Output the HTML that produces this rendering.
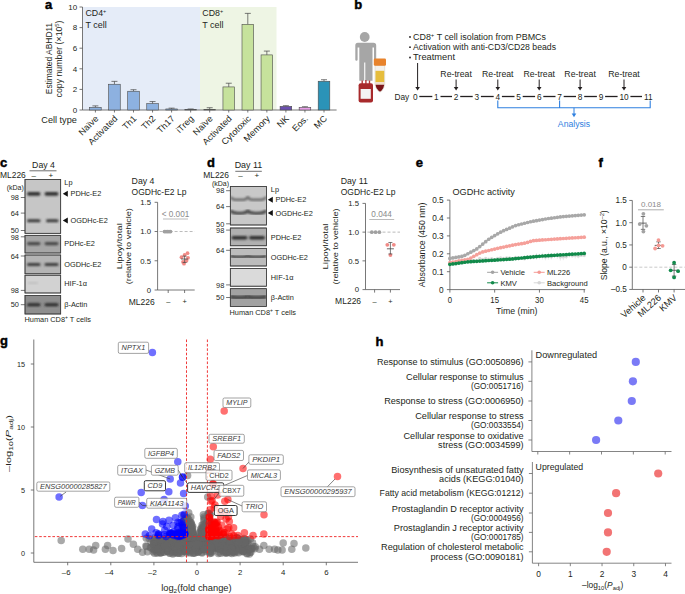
<!DOCTYPE html>
<html><head><meta charset="utf-8"><style>
html,body{margin:0;padding:0;background:#fff;width:685px;height:594px;overflow:hidden}
svg{display:block}
text{font-family:"Liberation Sans", sans-serif}
</style></head><body>
<svg width="685" height="594" viewBox="0 0 685 594">
<rect width="685" height="594" fill="#fff"/>
<text x="45.00" y="9.40" font-size="13" text-anchor="start" fill="#000" font-weight="bold" font-style="normal" stroke="#000" stroke-width="0.45">a</text>
<rect x="82.50" y="7.00" width="117.50" height="103.00" fill="#e5ecf8" stroke="none" stroke-width="0.8" />
<rect x="200.00" y="7.00" width="76.50" height="103.00" fill="#eef5e4" stroke="none" stroke-width="0.8" />
<line x1="82.50" y1="7.00" x2="82.50" y2="110.00" stroke="#555" stroke-width="0.8" />
<line x1="79.50" y1="110.00" x2="82.50" y2="110.00" stroke="#555" stroke-width="0.8" />
<text x="77.20" y="112.80" font-size="8.0" text-anchor="end" fill="#231f20" font-weight="normal" font-style="normal" >0</text>
<line x1="79.50" y1="89.40" x2="82.50" y2="89.40" stroke="#555" stroke-width="0.8" />
<text x="77.20" y="92.20" font-size="8.0" text-anchor="end" fill="#231f20" font-weight="normal" font-style="normal" >2</text>
<line x1="79.50" y1="68.80" x2="82.50" y2="68.80" stroke="#555" stroke-width="0.8" />
<text x="77.20" y="71.60" font-size="8.0" text-anchor="end" fill="#231f20" font-weight="normal" font-style="normal" >4</text>
<line x1="79.50" y1="48.20" x2="82.50" y2="48.20" stroke="#555" stroke-width="0.8" />
<text x="77.20" y="51.00" font-size="8.0" text-anchor="end" fill="#231f20" font-weight="normal" font-style="normal" >6</text>
<line x1="79.50" y1="27.60" x2="82.50" y2="27.60" stroke="#555" stroke-width="0.8" />
<text x="77.20" y="30.40" font-size="8.0" text-anchor="end" fill="#231f20" font-weight="normal" font-style="normal" >8</text>
<line x1="79.50" y1="7.00" x2="82.50" y2="7.00" stroke="#555" stroke-width="0.8" />
<text x="77.20" y="9.80" font-size="8.0" text-anchor="end" fill="#231f20" font-weight="normal" font-style="normal" >10</text>
<line x1="82.50" y1="110.00" x2="336.60" y2="110.00" stroke="#555" stroke-width="0.8" />
<text x="85.50" y="16.20" font-size="8.8" text-anchor="start" fill="#231f20" font-weight="normal" font-style="normal" >CD4<tspan font-size="5.5" dy="-3.2">+</tspan></text>
<text x="85.50" y="27.60" font-size="8.8" text-anchor="start" fill="#231f20" font-weight="normal" font-style="normal" textLength="21.28" lengthAdjust="spacingAndGlyphs" >T cell</text>
<text x="202.30" y="16.20" font-size="8.8" text-anchor="start" fill="#231f20" font-weight="normal" font-style="normal" >CD8<tspan font-size="5.5" dy="-3.2">+</tspan></text>
<text x="202.30" y="27.60" font-size="8.8" text-anchor="start" fill="#231f20" font-weight="normal" font-style="normal" textLength="21.28" lengthAdjust="spacingAndGlyphs" >T cell</text>
<g transform="translate(51.5,58.5) rotate(-90)"><text x="0.00" y="0.00" font-size="8.4" text-anchor="middle" fill="#231f20" font-weight="normal" font-style="normal" textLength="71.50" lengthAdjust="spacingAndGlyphs" >Estimated ABHD11</text></g>
<g transform="translate(62.0,59.0) rotate(-90)"><text x="0.00" y="0.00" font-size="8.4" text-anchor="middle" fill="#231f20" font-weight="normal" font-style="normal" textLength="77.00" lengthAdjust="spacingAndGlyphs" >copy number (×10<tspan font-size="5.5" dy="-3">5</tspan><tspan dy="3">)</tspan></text></g>
<line x1="95.40" y1="105.88" x2="95.40" y2="107.42" stroke="#444" stroke-width="0.7" />
<line x1="92.40" y1="105.88" x2="98.40" y2="105.88" stroke="#444" stroke-width="0.7" />
<rect x="89.60" y="107.42" width="11.60" height="2.58" fill="#8db1e0" stroke="#4a4a4a" stroke-width="0.6" />
<line x1="95.40" y1="110.00" x2="95.40" y2="112.50" stroke="#555" stroke-width="0.8" />
<g transform="translate(99.00,119.20) rotate(-45)"><text x="0.00" y="0.00" font-size="8.9" text-anchor="end" fill="#231f20" font-weight="normal" font-style="normal" textLength="23.71" lengthAdjust="spacingAndGlyphs" >Naïve</text></g>
<line x1="114.45" y1="81.37" x2="114.45" y2="84.25" stroke="#444" stroke-width="0.7" />
<line x1="111.45" y1="81.37" x2="117.45" y2="81.37" stroke="#444" stroke-width="0.7" />
<rect x="108.65" y="84.25" width="11.60" height="25.75" fill="#8db1e0" stroke="#4a4a4a" stroke-width="0.6" />
<line x1="114.45" y1="110.00" x2="114.45" y2="112.50" stroke="#555" stroke-width="0.8" />
<g transform="translate(118.05,119.20) rotate(-45)"><text x="0.00" y="0.00" font-size="8.9" text-anchor="end" fill="#231f20" font-weight="normal" font-style="normal" textLength="37.34" lengthAdjust="spacingAndGlyphs" >Activated</text></g>
<line x1="133.50" y1="89.71" x2="133.50" y2="91.25" stroke="#444" stroke-width="0.7" />
<line x1="130.50" y1="89.71" x2="136.50" y2="89.71" stroke="#444" stroke-width="0.7" />
<rect x="127.70" y="91.25" width="11.60" height="18.75" fill="#8db1e0" stroke="#4a4a4a" stroke-width="0.6" />
<line x1="133.50" y1="110.00" x2="133.50" y2="112.50" stroke="#555" stroke-width="0.8" />
<g transform="translate(137.10,119.20) rotate(-45)"><text x="0.00" y="0.00" font-size="8.9" text-anchor="end" fill="#231f20" font-weight="normal" font-style="normal" textLength="15.64" lengthAdjust="spacingAndGlyphs" >Th1</text></g>
<line x1="152.55" y1="101.55" x2="152.55" y2="103.61" stroke="#444" stroke-width="0.7" />
<line x1="149.55" y1="101.55" x2="155.55" y2="101.55" stroke="#444" stroke-width="0.7" />
<rect x="146.75" y="103.61" width="11.60" height="6.39" fill="#8db1e0" stroke="#4a4a4a" stroke-width="0.6" />
<line x1="152.55" y1="110.00" x2="152.55" y2="112.50" stroke="#555" stroke-width="0.8" />
<g transform="translate(156.15,119.20) rotate(-45)"><text x="0.00" y="0.00" font-size="8.9" text-anchor="end" fill="#231f20" font-weight="normal" font-style="normal" textLength="15.64" lengthAdjust="spacingAndGlyphs" >Th2</text></g>
<line x1="171.60" y1="108.15" x2="171.60" y2="108.97" stroke="#444" stroke-width="0.7" />
<line x1="168.60" y1="108.15" x2="174.60" y2="108.15" stroke="#444" stroke-width="0.7" />
<rect x="165.80" y="108.97" width="11.60" height="1.03" fill="#8db1e0" stroke="#4a4a4a" stroke-width="0.6" />
<line x1="171.60" y1="110.00" x2="171.60" y2="112.50" stroke="#555" stroke-width="0.8" />
<g transform="translate(175.20,119.20) rotate(-45)"><text x="0.00" y="0.00" font-size="8.9" text-anchor="end" fill="#231f20" font-weight="normal" font-style="normal" textLength="20.69" lengthAdjust="spacingAndGlyphs" >Th17</text></g>
<line x1="190.65" y1="108.97" x2="190.65" y2="109.48" stroke="#444" stroke-width="0.7" />
<line x1="187.65" y1="108.97" x2="193.65" y2="108.97" stroke="#444" stroke-width="0.7" />
<rect x="184.85" y="109.48" width="11.60" height="0.52" fill="#8db1e0" stroke="#4a4a4a" stroke-width="0.6" />
<line x1="190.65" y1="110.00" x2="190.65" y2="112.50" stroke="#555" stroke-width="0.8" />
<g transform="translate(194.25,119.20) rotate(-45)"><text x="0.00" y="0.00" font-size="8.9" text-anchor="end" fill="#231f20" font-weight="normal" font-style="normal" textLength="20.35" lengthAdjust="spacingAndGlyphs" >iTreg</text></g>
<line x1="209.70" y1="107.73" x2="209.70" y2="109.48" stroke="#444" stroke-width="0.7" />
<line x1="206.70" y1="107.73" x2="212.70" y2="107.73" stroke="#444" stroke-width="0.7" />
<rect x="203.90" y="109.48" width="11.60" height="0.52" fill="#c6e29c" stroke="#4a4a4a" stroke-width="0.6" />
<line x1="209.70" y1="110.00" x2="209.70" y2="112.50" stroke="#555" stroke-width="0.8" />
<g transform="translate(213.30,119.20) rotate(-45)"><text x="0.00" y="0.00" font-size="8.9" text-anchor="end" fill="#231f20" font-weight="normal" font-style="normal" textLength="23.71" lengthAdjust="spacingAndGlyphs" >Naïve</text></g>
<line x1="228.75" y1="83.22" x2="228.75" y2="86.93" stroke="#444" stroke-width="0.7" />
<line x1="225.75" y1="83.22" x2="231.75" y2="83.22" stroke="#444" stroke-width="0.7" />
<rect x="222.95" y="86.93" width="11.60" height="23.07" fill="#c6e29c" stroke="#4a4a4a" stroke-width="0.6" />
<line x1="228.75" y1="110.00" x2="228.75" y2="112.50" stroke="#555" stroke-width="0.8" />
<g transform="translate(232.35,119.20) rotate(-45)"><text x="0.00" y="0.00" font-size="8.9" text-anchor="end" fill="#231f20" font-weight="normal" font-style="normal" textLength="37.34" lengthAdjust="spacingAndGlyphs" >Activated</text></g>
<line x1="247.80" y1="13.39" x2="247.80" y2="24.30" stroke="#444" stroke-width="0.7" />
<line x1="244.80" y1="13.39" x2="250.80" y2="13.39" stroke="#444" stroke-width="0.7" />
<rect x="242.00" y="24.30" width="11.60" height="85.70" fill="#c6e29c" stroke="#4a4a4a" stroke-width="0.6" />
<line x1="247.80" y1="110.00" x2="247.80" y2="112.50" stroke="#555" stroke-width="0.8" />
<g transform="translate(251.40,119.20) rotate(-45)"><text x="0.00" y="0.00" font-size="8.9" text-anchor="end" fill="#231f20" font-weight="normal" font-style="normal" textLength="37.33" lengthAdjust="spacingAndGlyphs" >Cytotoxic</text></g>
<line x1="266.85" y1="51.08" x2="266.85" y2="54.90" stroke="#444" stroke-width="0.7" />
<line x1="263.85" y1="51.08" x2="269.85" y2="51.08" stroke="#444" stroke-width="0.7" />
<rect x="261.05" y="54.90" width="11.60" height="55.10" fill="#c6e29c" stroke="#4a4a4a" stroke-width="0.6" />
<line x1="266.85" y1="110.00" x2="266.85" y2="112.50" stroke="#555" stroke-width="0.8" />
<g transform="translate(270.45,119.20) rotate(-45)"><text x="0.00" y="0.00" font-size="8.9" text-anchor="end" fill="#231f20" font-weight="normal" font-style="normal" textLength="32.79" lengthAdjust="spacingAndGlyphs" >Memory</text></g>
<line x1="285.90" y1="105.67" x2="285.90" y2="106.39" stroke="#444" stroke-width="0.7" />
<line x1="282.90" y1="105.67" x2="288.90" y2="105.67" stroke="#444" stroke-width="0.7" />
<rect x="280.10" y="106.39" width="11.60" height="3.60" fill="#6b4fb0" stroke="#4a4a4a" stroke-width="0.6" />
<line x1="285.90" y1="110.00" x2="285.90" y2="112.50" stroke="#555" stroke-width="0.8" />
<g transform="translate(289.50,119.20) rotate(-45)"><text x="0.00" y="0.00" font-size="8.9" text-anchor="end" fill="#231f20" font-weight="normal" font-style="normal" textLength="12.61" lengthAdjust="spacingAndGlyphs" >NK</text></g>
<line x1="304.95" y1="106.70" x2="304.95" y2="107.42" stroke="#444" stroke-width="0.7" />
<line x1="301.95" y1="106.70" x2="307.95" y2="106.70" stroke="#444" stroke-width="0.7" />
<rect x="299.15" y="107.42" width="11.60" height="2.58" fill="#e8a0e8" stroke="#4a4a4a" stroke-width="0.6" />
<line x1="304.95" y1="110.00" x2="304.95" y2="112.50" stroke="#555" stroke-width="0.8" />
<g transform="translate(308.55,119.20) rotate(-45)"><text x="0.00" y="0.00" font-size="8.9" text-anchor="end" fill="#231f20" font-weight="normal" font-style="normal" textLength="18.17" lengthAdjust="spacingAndGlyphs" >Eos.</text></g>
<line x1="324.00" y1="79.72" x2="324.00" y2="81.26" stroke="#444" stroke-width="0.7" />
<line x1="321.00" y1="79.72" x2="327.00" y2="79.72" stroke="#444" stroke-width="0.7" />
<rect x="318.20" y="81.26" width="11.60" height="28.74" fill="#2b93b8" stroke="#4a4a4a" stroke-width="0.6" />
<line x1="324.00" y1="110.00" x2="324.00" y2="112.50" stroke="#555" stroke-width="0.8" />
<g transform="translate(327.60,119.20) rotate(-45)"><text x="0.00" y="0.00" font-size="8.9" text-anchor="end" fill="#231f20" font-weight="normal" font-style="normal" textLength="14.12" lengthAdjust="spacingAndGlyphs" >MC</text></g>
<text x="76.80" y="123.20" font-size="8.6" text-anchor="end" fill="#231f20" font-weight="normal" font-style="normal" textLength="35.50" lengthAdjust="spacingAndGlyphs" >Cell type</text>
<text x="354.30" y="8.80" font-size="13" text-anchor="start" fill="#000" font-weight="bold" font-style="normal" stroke="#000" stroke-width="0.45">b</text>
<circle cx="364.70" cy="37.00" r="4.90" fill="#a6a6a6" />
<path d="M357.8,42.8 H373.5 Q376.2,42.8 376.2,45.5 V59.8 Q376.2,60.8 375.1,60.8 Q374.0,60.8 374.0,59.8 V47.5 H372.5 V80.8 H365.3 V62.5 H364.2 V80.8 H359.3 V47.5 H357.6 V59.8 Q357.6,60.8 356.5,60.8 Q355.3,60.8 355.3,59.8 V45.5 Q355.3,42.8 357.8,42.8 Z" fill="#a6a6a6"/>
<rect x="361.50" y="80.50" width="1.40" height="3.50" fill="#b5383a" stroke="none" stroke-width="0.8" />
<rect x="365.20" y="80.00" width="1.40" height="4.00" fill="#b5383a" stroke="none" stroke-width="0.8" />
<rect x="368.80" y="80.50" width="1.40" height="3.50" fill="#b5383a" stroke="none" stroke-width="0.8" />
<rect x="358.6" y="83.3" width="14.4" height="19.3" rx="2" fill="#a82a2c"/>
<rect x="360.60" y="89.00" width="10.20" height="9.80" fill="#f4f4f4" stroke="none" stroke-width="0.8" />
<path d="M375.0,65.5 H384.7 V84.5 Q384.5,87.5 381.8,91.0 Q380.0,93.2 378.2,91.0 Q375.2,87.5 375.0,84.5 Z" fill="#f4f1ec" stroke="#cfc8bc" stroke-width="0.5"/>
<rect x="375.50" y="70.80" width="8.70" height="11.40" fill="#e6bd3c" stroke="none" stroke-width="0.8" />
<rect x="375.50" y="82.20" width="8.70" height="2.60" fill="#efdccb" stroke="none" stroke-width="0.8" />
<path d="M375.5,84.8 H384.2 Q384.0,87.5 381.6,90.6 Q380.0,92.6 378.4,90.6 Q375.7,87.5 375.5,84.8 Z" fill="#7a1418"/>
<rect x="373.8" y="58.6" width="12.2" height="7.2" rx="1.2" fill="#e8832c"/>
<circle cx="410.00" cy="37.00" r="0.90" fill="#231f20" />
<text x="413.00" y="39.50" font-size="8.3" text-anchor="start" fill="#231f20" font-weight="normal" font-style="normal" textLength="133.00" lengthAdjust="spacingAndGlyphs" >CD8<tspan font-size="5.5" dy="-3">+</tspan><tspan dy="3"> T cell isolation from PBMCs</tspan></text>
<circle cx="410.00" cy="47.20" r="0.90" fill="#231f20" />
<text x="413.00" y="49.70" font-size="8.3" text-anchor="start" fill="#231f20" font-weight="normal" font-style="normal" textLength="143.00" lengthAdjust="spacingAndGlyphs" >Activation with anti-CD3/CD28 beads</text>
<circle cx="410.00" cy="57.50" r="0.90" fill="#231f20" />
<text x="413.00" y="60.00" font-size="8.3" text-anchor="start" fill="#231f20" font-weight="normal" font-style="normal" textLength="42.00" lengthAdjust="spacingAndGlyphs" >Treatment</text>
<text x="394.50" y="99.50" font-size="8.3" text-anchor="start" fill="#231f20" font-weight="normal" font-style="normal" >Day</text>
<text x="415.20" y="99.50" font-size="8.3" text-anchor="middle" fill="#231f20" font-weight="normal" font-style="normal" >0</text>
<text x="436.40" y="99.50" font-size="8.3" text-anchor="middle" fill="#231f20" font-weight="normal" font-style="normal" >1</text>
<text x="456.10" y="99.50" font-size="8.3" text-anchor="middle" fill="#231f20" font-weight="normal" font-style="normal" >2</text>
<text x="476.80" y="99.50" font-size="8.3" text-anchor="middle" fill="#231f20" font-weight="normal" font-style="normal" >3</text>
<text x="497.80" y="99.50" font-size="8.3" text-anchor="middle" fill="#231f20" font-weight="normal" font-style="normal" >4</text>
<text x="518.60" y="99.50" font-size="8.3" text-anchor="middle" fill="#231f20" font-weight="normal" font-style="normal" >5</text>
<text x="539.20" y="99.50" font-size="8.3" text-anchor="middle" fill="#231f20" font-weight="normal" font-style="normal" >6</text>
<text x="559.60" y="99.50" font-size="8.3" text-anchor="middle" fill="#231f20" font-weight="normal" font-style="normal" >7</text>
<text x="580.10" y="99.50" font-size="8.3" text-anchor="middle" fill="#231f20" font-weight="normal" font-style="normal" >8</text>
<text x="601.00" y="99.50" font-size="8.3" text-anchor="middle" fill="#231f20" font-weight="normal" font-style="normal" >9</text>
<text x="624.00" y="99.50" font-size="8.3" text-anchor="middle" fill="#231f20" font-weight="normal" font-style="normal" >10</text>
<text x="648.40" y="99.50" font-size="8.3" text-anchor="middle" fill="#231f20" font-weight="normal" font-style="normal" >11</text>
<line x1="419.30" y1="96.50" x2="432.30" y2="96.50" stroke="#231f20" stroke-width="1.3" />
<line x1="440.50" y1="96.50" x2="452.00" y2="96.50" stroke="#231f20" stroke-width="1.3" />
<line x1="460.20" y1="96.50" x2="472.70" y2="96.50" stroke="#231f20" stroke-width="1.3" />
<line x1="480.90" y1="96.50" x2="493.70" y2="96.50" stroke="#231f20" stroke-width="1.3" />
<line x1="501.90" y1="96.50" x2="514.50" y2="96.50" stroke="#231f20" stroke-width="1.3" />
<line x1="522.70" y1="96.50" x2="535.10" y2="96.50" stroke="#231f20" stroke-width="1.3" />
<line x1="543.30" y1="96.50" x2="555.50" y2="96.50" stroke="#231f20" stroke-width="1.3" />
<line x1="563.70" y1="96.50" x2="576.00" y2="96.50" stroke="#231f20" stroke-width="1.3" />
<line x1="584.20" y1="96.50" x2="596.90" y2="96.50" stroke="#231f20" stroke-width="1.3" />
<line x1="605.10" y1="96.50" x2="617.60" y2="96.50" stroke="#231f20" stroke-width="1.3" />
<line x1="630.40" y1="96.50" x2="642.00" y2="96.50" stroke="#231f20" stroke-width="1.3" />
<line x1="417.60" y1="63.00" x2="417.60" y2="87.50" stroke="#231f20" stroke-width="1.0" /><path d="M415.30,86.90 L419.90,86.90 L417.60,90.50 Z" fill="#231f20"/>
<text x="456.10" y="76.50" font-size="8.3" text-anchor="middle" fill="#231f20" font-weight="normal" font-style="normal" textLength="31.50" lengthAdjust="spacingAndGlyphs" >Re-treat</text>
<line x1="456.10" y1="79.50" x2="456.10" y2="87.50" stroke="#231f20" stroke-width="1.0" /><path d="M453.80,86.90 L458.40,86.90 L456.10,90.50 Z" fill="#231f20"/>
<text x="497.80" y="76.50" font-size="8.3" text-anchor="middle" fill="#231f20" font-weight="normal" font-style="normal" textLength="31.50" lengthAdjust="spacingAndGlyphs" >Re-treat</text>
<line x1="497.80" y1="79.50" x2="497.80" y2="87.50" stroke="#231f20" stroke-width="1.0" /><path d="M495.50,86.90 L500.10,86.90 L497.80,90.50 Z" fill="#231f20"/>
<text x="539.20" y="76.50" font-size="8.3" text-anchor="middle" fill="#231f20" font-weight="normal" font-style="normal" textLength="31.50" lengthAdjust="spacingAndGlyphs" >Re-treat</text>
<line x1="539.20" y1="79.50" x2="539.20" y2="87.50" stroke="#231f20" stroke-width="1.0" /><path d="M536.90,86.90 L541.50,86.90 L539.20,90.50 Z" fill="#231f20"/>
<text x="580.10" y="76.50" font-size="8.3" text-anchor="middle" fill="#231f20" font-weight="normal" font-style="normal" textLength="31.50" lengthAdjust="spacingAndGlyphs" >Re-treat</text>
<line x1="580.10" y1="79.50" x2="580.10" y2="87.50" stroke="#231f20" stroke-width="1.0" /><path d="M577.80,86.90 L582.40,86.90 L580.10,90.50 Z" fill="#231f20"/>
<text x="624.00" y="76.50" font-size="8.3" text-anchor="middle" fill="#231f20" font-weight="normal" font-style="normal" textLength="31.50" lengthAdjust="spacingAndGlyphs" >Re-treat</text>
<line x1="624.00" y1="79.50" x2="624.00" y2="87.50" stroke="#231f20" stroke-width="1.0" /><path d="M621.70,86.90 L626.30,86.90 L624.00,90.50 Z" fill="#231f20"/>
<path d="M497.8,100.5 V107.8 H650.2 V100.5 M559.6,107.8 V100.5" fill="none" stroke="#2f80e0" stroke-width="1.1"/>
<line x1="574.00" y1="107.80" x2="574.00" y2="114.50" stroke="#2f80e0" stroke-width="1.0" />
<path d="M571.7,113.5 L576.3,113.5 L574,117.2 Z" fill="#2f80e0"/>
<text x="574.00" y="127.40" font-size="8.3" text-anchor="middle" fill="#2f80e0" font-weight="normal" font-style="normal" textLength="32.30" lengthAdjust="spacingAndGlyphs" >Analysis</text>
<defs><filter id="blur" x="-20%" y="-50%" width="140%" height="200%"><feGaussianBlur stdDeviation="0.85"/></filter></defs>
<text x="0.00" y="166.90" font-size="13" text-anchor="start" fill="#000" font-weight="bold" font-style="normal" stroke="#000" stroke-width="0.45">c</text>
<text x="43.50" y="167.60" font-size="8.6" text-anchor="middle" fill="#231f20" font-weight="normal" font-style="normal" textLength="22.80" lengthAdjust="spacingAndGlyphs" >Day 4</text>
<line x1="29.50" y1="170.80" x2="56.50" y2="170.80" stroke="#333" stroke-width="0.7" />
<text x="0.00" y="177.70" font-size="9.0" text-anchor="start" fill="#231f20" font-weight="normal" font-style="normal" textLength="25.80" lengthAdjust="spacingAndGlyphs" >ML226</text>
<text x="33.80" y="178.20" font-size="8.0" text-anchor="middle" fill="#231f20" font-weight="normal" font-style="normal" >–</text>
<text x="50.80" y="178.20" font-size="8.0" text-anchor="middle" fill="#231f20" font-weight="normal" font-style="normal" >+</text>
<text x="23.80" y="189.60" font-size="7.0" text-anchor="end" fill="#231f20" font-weight="normal" font-style="normal" >(kDa)</text>
<clipPath id="clip25_0"><rect x="25.00" y="179.40" width="35.70" height="53.90"/></clipPath>
<rect x="25.00" y="179.40" width="35.70" height="53.90" fill="#c6c6c6" stroke="#3c3c3c" stroke-width="0.7" />
<g clip-path="url(#clip25_0)">
<rect x="27.00" y="192.10" width="13.50" height="3.60" rx="1.80" fill="#333" filter="url(#blur)"/>
<rect x="44.50" y="192.10" width="14.00" height="3.60" rx="1.80" fill="#333" filter="url(#blur)"/>
<rect x="27.00" y="219.20" width="13.50" height="3.00" rx="1.50" fill="#3a3a3a" filter="url(#blur)"/>
<rect x="46.00" y="219.20" width="12.50" height="3.00" rx="1.50" fill="#3a3a3a" filter="url(#blur)"/>
</g>
<rect x="25.00" y="179.40" width="35.70" height="53.90" fill="none" stroke="#3c3c3c" stroke-width="0.7" />
<clipPath id="clip25_1"><rect x="25.00" y="235.30" width="35.70" height="17.70"/></clipPath>
<rect x="25.00" y="235.30" width="35.70" height="17.70" fill="#a6a6a6" stroke="#3c3c3c" stroke-width="0.7" />
<g clip-path="url(#clip25_1)">
<rect x="27.00" y="242.00" width="13.50" height="3.20" rx="1.60" fill="#4a4a4a" filter="url(#blur)"/>
<rect x="44.50" y="242.00" width="14.00" height="3.20" rx="1.60" fill="#4a4a4a" filter="url(#blur)"/>
</g>
<rect x="25.00" y="235.30" width="35.70" height="17.70" fill="none" stroke="#3c3c3c" stroke-width="0.7" />
<clipPath id="clip25_2"><rect x="25.00" y="255.00" width="35.70" height="18.80"/></clipPath>
<rect x="25.00" y="255.00" width="35.70" height="18.80" fill="#b4b4b4" stroke="#3c3c3c" stroke-width="0.7" />
<g clip-path="url(#clip25_2)">
<rect x="27.00" y="263.10" width="13.50" height="3.00" rx="1.50" fill="#3c3c3c" filter="url(#blur)"/>
<rect x="44.50" y="263.10" width="14.00" height="3.00" rx="1.50" fill="#3c3c3c" filter="url(#blur)"/>
</g>
<rect x="25.00" y="255.00" width="35.70" height="18.80" fill="none" stroke="#3c3c3c" stroke-width="0.7" />
<clipPath id="clip25_3"><rect x="25.00" y="275.20" width="35.70" height="17.80"/></clipPath>
<rect x="25.00" y="275.20" width="35.70" height="17.80" fill="#d2d2d2" stroke="#3c3c3c" stroke-width="0.7" />
<g clip-path="url(#clip25_3)">
<rect x="28.00" y="282.00" width="10.00" height="2.00" rx="1.00" fill="#c0c0c0" filter="url(#blur)"/>
</g>
<rect x="25.00" y="275.20" width="35.70" height="17.80" fill="none" stroke="#3c3c3c" stroke-width="0.7" />
<clipPath id="clip25_4"><rect x="25.00" y="295.50" width="35.70" height="18.50"/></clipPath>
<rect x="25.00" y="295.50" width="35.70" height="18.50" fill="#8e8e8e" stroke="#3c3c3c" stroke-width="0.7" />
<g clip-path="url(#clip25_4)">
<rect x="27.00" y="303.30" width="13.50" height="3.00" rx="1.50" fill="#2a2a2a" filter="url(#blur)"/>
<rect x="44.50" y="303.30" width="14.00" height="3.00" rx="1.50" fill="#2a2a2a" filter="url(#blur)"/>
</g>
<rect x="25.00" y="295.50" width="35.70" height="18.50" fill="none" stroke="#3c3c3c" stroke-width="0.7" />
<line x1="20.80" y1="197.50" x2="25.00" y2="197.50" stroke="#3c3c3c" stroke-width="0.7" />
<text x="19.00" y="200.20" font-size="7.8" text-anchor="end" fill="#231f20" font-weight="normal" font-style="normal" textLength="8.24" lengthAdjust="spacingAndGlyphs" >98</text>
<line x1="20.80" y1="213.10" x2="25.00" y2="213.10" stroke="#3c3c3c" stroke-width="0.7" />
<text x="19.00" y="215.80" font-size="7.8" text-anchor="end" fill="#231f20" font-weight="normal" font-style="normal" textLength="8.24" lengthAdjust="spacingAndGlyphs" >64</text>
<line x1="20.80" y1="230.50" x2="25.00" y2="230.50" stroke="#3c3c3c" stroke-width="0.7" />
<text x="19.00" y="233.20" font-size="7.8" text-anchor="end" fill="#231f20" font-weight="normal" font-style="normal" textLength="8.24" lengthAdjust="spacingAndGlyphs" >50</text>
<line x1="20.80" y1="236.80" x2="25.00" y2="236.80" stroke="#3c3c3c" stroke-width="0.7" />
<text x="19.00" y="239.50" font-size="7.8" text-anchor="end" fill="#231f20" font-weight="normal" font-style="normal" textLength="8.24" lengthAdjust="spacingAndGlyphs" >98</text>
<line x1="20.80" y1="256.00" x2="25.00" y2="256.00" stroke="#3c3c3c" stroke-width="0.7" />
<text x="19.00" y="258.70" font-size="7.8" text-anchor="end" fill="#231f20" font-weight="normal" font-style="normal" textLength="8.24" lengthAdjust="spacingAndGlyphs" >64</text>
<line x1="20.80" y1="290.40" x2="25.00" y2="290.40" stroke="#3c3c3c" stroke-width="0.7" />
<text x="19.00" y="293.10" font-size="7.8" text-anchor="end" fill="#231f20" font-weight="normal" font-style="normal" textLength="8.24" lengthAdjust="spacingAndGlyphs" >98</text>
<line x1="20.80" y1="304.70" x2="25.00" y2="304.70" stroke="#3c3c3c" stroke-width="0.7" />
<text x="19.00" y="307.40" font-size="7.8" text-anchor="end" fill="#231f20" font-weight="normal" font-style="normal" textLength="8.24" lengthAdjust="spacingAndGlyphs" >50</text>
<text x="64.30" y="184.60" font-size="7.5" text-anchor="start" fill="#231f20" font-weight="normal" font-style="normal" textLength="8.18" lengthAdjust="spacingAndGlyphs" >Lp</text>
<path d="M62.80,193.80 L67.80,190.80 L67.80,196.80 Z" fill="#111"/>
<text x="70.60" y="196.40" font-size="7.5" text-anchor="start" fill="#231f20" font-weight="normal" font-style="normal" textLength="30.63" lengthAdjust="spacingAndGlyphs" >PDHc-E2</text>
<path d="M62.80,220.60 L67.80,217.60 L67.80,223.60 Z" fill="#111"/>
<text x="70.60" y="223.20" font-size="7.5" text-anchor="start" fill="#231f20" font-weight="normal" font-style="normal" textLength="37.16" lengthAdjust="spacingAndGlyphs" >OGDHc-E2</text>
<text x="64.30" y="246.00" font-size="7.5" text-anchor="start" fill="#231f20" font-weight="normal" font-style="normal" textLength="30.63" lengthAdjust="spacingAndGlyphs" >PDHc-E2</text>
<text x="64.30" y="267.20" font-size="7.5" text-anchor="start" fill="#231f20" font-weight="normal" font-style="normal" textLength="37.16" lengthAdjust="spacingAndGlyphs" >OGDHc-E2</text>
<text x="64.30" y="285.60" font-size="7.5" text-anchor="start" fill="#231f20" font-weight="normal" font-style="normal" textLength="22.62" lengthAdjust="spacingAndGlyphs" >HIF-1α</text>
<text x="64.30" y="307.30" font-size="7.5" text-anchor="start" fill="#231f20" font-weight="normal" font-style="normal" textLength="23.02" lengthAdjust="spacingAndGlyphs" >β-Actin</text>
<text x="24.50" y="322.00" font-size="7.4" text-anchor="start" fill="#231f20" font-weight="normal" font-style="normal" textLength="66.50" lengthAdjust="spacingAndGlyphs" >Human CD8<tspan font-size="5" dy="-3">+</tspan><tspan dy="3"> T cells</tspan></text>
<line x1="157.60" y1="202.30" x2="157.60" y2="290.00" stroke="#555" stroke-width="0.8" />
<line x1="157.60" y1="290.00" x2="194.70" y2="290.00" stroke="#555" stroke-width="0.8" />
<line x1="154.60" y1="290.00" x2="157.60" y2="290.00" stroke="#555" stroke-width="0.8" />
<text x="151.10" y="292.80" font-size="8.0" text-anchor="end" fill="#231f20" font-weight="normal" font-style="normal" textLength="4.32" lengthAdjust="spacingAndGlyphs" >0</text>
<line x1="154.60" y1="260.77" x2="157.60" y2="260.77" stroke="#555" stroke-width="0.8" />
<text x="151.10" y="263.57" font-size="8.0" text-anchor="end" fill="#231f20" font-weight="normal" font-style="normal" textLength="10.79" lengthAdjust="spacingAndGlyphs" >0.5</text>
<line x1="154.60" y1="231.53" x2="157.60" y2="231.53" stroke="#555" stroke-width="0.8" />
<text x="151.10" y="234.33" font-size="8.0" text-anchor="end" fill="#231f20" font-weight="normal" font-style="normal" textLength="10.79" lengthAdjust="spacingAndGlyphs" >1.0</text>
<line x1="154.60" y1="202.30" x2="157.60" y2="202.30" stroke="#555" stroke-width="0.8" />
<text x="151.10" y="205.10" font-size="8.0" text-anchor="end" fill="#231f20" font-weight="normal" font-style="normal" textLength="10.79" lengthAdjust="spacingAndGlyphs" >1.5</text>
<line x1="168.20" y1="290.00" x2="168.20" y2="293.00" stroke="#555" stroke-width="0.8" />
<line x1="184.60" y1="290.00" x2="184.60" y2="293.00" stroke="#555" stroke-width="0.8" />
<text x="168.20" y="304.00" font-size="7.4" text-anchor="middle" fill="#231f20" font-weight="normal" font-style="normal" >–</text>
<text x="184.60" y="304.00" font-size="7.4" text-anchor="middle" fill="#231f20" font-weight="normal" font-style="normal" >+</text>
<text x="154.70" y="304.50" font-size="8.5" text-anchor="end" fill="#231f20" font-weight="normal" font-style="normal" textLength="25.99" lengthAdjust="spacingAndGlyphs" >ML226</text>
<line x1="159.60" y1="231.53" x2="194.70" y2="231.53" stroke="#aaa" stroke-width="0.8" stroke-dasharray="3,2"/>
<text x="131.60" y="183.50" font-size="8.5" text-anchor="start" fill="#231f20" font-weight="normal" font-style="normal" textLength="22.87" lengthAdjust="spacingAndGlyphs" >Day 4</text>
<text x="131.60" y="194.50" font-size="8.5" text-anchor="start" fill="#231f20" font-weight="normal" font-style="normal" textLength="54.79" lengthAdjust="spacingAndGlyphs" >OGDHc-E2 Lp</text>
<text x="175.50" y="216.50" font-size="8.2" text-anchor="middle" fill="#8a8a8a" font-weight="normal" font-style="normal" >&lt; 0.001</text>
<line x1="163.00" y1="219.00" x2="188.00" y2="219.00" stroke="#aaa" stroke-width="0.8" />
<g transform="translate(121.50,246.15) rotate(-90)"><text x="0.00" y="0.00" font-size="7.9" text-anchor="middle" fill="#231f20" font-weight="normal" font-style="normal" textLength="46.00" lengthAdjust="spacingAndGlyphs" >Lipoyl/total</text></g>
<g transform="translate(131.00,246.15) rotate(-90)"><text x="0.00" y="0.00" font-size="7.9" text-anchor="middle" fill="#231f20" font-weight="normal" font-style="normal" textLength="76.00" lengthAdjust="spacingAndGlyphs" >(relative to vehicle)</text></g>
<circle cx="164.50" cy="231.53" r="1.90" fill="#a0a0a0" />
<circle cx="166.00" cy="231.53" r="1.90" fill="#a0a0a0" />
<circle cx="167.50" cy="231.53" r="1.90" fill="#a0a0a0" />
<circle cx="169.00" cy="231.53" r="1.90" fill="#a0a0a0" />
<circle cx="170.50" cy="231.53" r="1.90" fill="#a0a0a0" />
<circle cx="187.50" cy="253.17" r="1.90" fill="#f08a86" />
<circle cx="181.50" cy="257.26" r="1.90" fill="#f08a86" />
<circle cx="188.00" cy="257.84" r="1.90" fill="#f08a86" />
<circle cx="183.00" cy="261.94" r="1.90" fill="#f08a86" />
<circle cx="186.50" cy="260.77" r="1.90" fill="#f08a86" />
<circle cx="184.60" cy="254.92" r="1.90" fill="#f08a86" />
<circle cx="184.00" cy="263.69" r="1.90" fill="#f08a86" />
<line x1="184.60" y1="262.52" x2="184.60" y2="256.09" stroke="#444" stroke-width="0.7" />
<line x1="181.10" y1="259.01" x2="188.10" y2="259.01" stroke="#444" stroke-width="0.8" />
<line x1="182.60" y1="262.52" x2="186.60" y2="262.52" stroke="#444" stroke-width="0.7" />
<line x1="182.60" y1="256.09" x2="186.60" y2="256.09" stroke="#444" stroke-width="0.7" />
<text x="207.00" y="166.70" font-size="13" text-anchor="start" fill="#000" font-weight="bold" font-style="normal" stroke="#000" stroke-width="0.45">d</text>
<text x="248.50" y="167.60" font-size="8.6" text-anchor="middle" fill="#231f20" font-weight="normal" font-style="normal" textLength="27.68" lengthAdjust="spacingAndGlyphs" >Day 11</text>
<line x1="235.30" y1="171.30" x2="261.80" y2="171.30" stroke="#333" stroke-width="0.7" />
<text x="229.00" y="177.60" font-size="9.0" text-anchor="end" fill="#231f20" font-weight="normal" font-style="normal" textLength="25.80" lengthAdjust="spacingAndGlyphs" >ML226</text>
<text x="240.40" y="178.00" font-size="8.0" text-anchor="middle" fill="#231f20" font-weight="normal" font-style="normal" >–</text>
<text x="256.80" y="178.00" font-size="8.0" text-anchor="middle" fill="#231f20" font-weight="normal" font-style="normal" >+</text>
<text x="229.00" y="185.50" font-size="7.0" text-anchor="end" fill="#231f20" font-weight="normal" font-style="normal" >(kDa)</text>
<clipPath id="clip230_0"><rect x="230.30" y="186.40" width="36.10" height="38.60"/></clipPath>
<rect x="230.30" y="186.40" width="36.10" height="38.60" fill="#c8c8c8" stroke="#3c3c3c" stroke-width="0.7" />
<g clip-path="url(#clip230_0)">
<path d="M230.50,197.00 C233.00,200.10 235.00,199.80 239.40,199.80 C243.80,199.80 245.80,200.10 248.30,197.00" fill="none" stroke="#6a6a6a" stroke-width="2.60" filter="url(#blur)"/>
<path d="M247.30,197.00 C249.80,200.10 251.80,199.80 256.80,199.80 C261.80,199.80 263.80,200.10 266.30,197.00" fill="none" stroke="#6a6a6a" stroke-width="2.60" filter="url(#blur)"/>
<path d="M230.50,210.60 C233.00,213.50 235.00,213.20 239.40,213.20 C243.80,213.20 245.80,213.50 248.30,210.60" fill="none" stroke="#4a4a4a" stroke-width="3.00" filter="url(#blur)"/>
<path d="M247.30,210.60 C249.80,213.50 251.80,213.20 256.80,213.20 C261.80,213.20 263.80,213.50 266.30,210.60" fill="none" stroke="#4a4a4a" stroke-width="3.00" filter="url(#blur)"/>
</g>
<rect x="230.30" y="186.40" width="36.10" height="38.60" fill="none" stroke="#3c3c3c" stroke-width="0.7" />
<clipPath id="clip230_1"><rect x="230.30" y="228.00" width="36.10" height="17.80"/></clipPath>
<rect x="230.30" y="228.00" width="36.10" height="17.80" fill="#b0b0b0" stroke="#3c3c3c" stroke-width="0.7" />
<g clip-path="url(#clip230_1)">
<rect x="231.50" y="235.90" width="16.00" height="3.60" rx="1.80" fill="#2e2e2e" filter="url(#blur)"/>
<rect x="249.00" y="235.90" width="16.00" height="3.60" rx="1.80" fill="#2e2e2e" filter="url(#blur)"/>
</g>
<rect x="230.30" y="228.00" width="36.10" height="17.80" fill="none" stroke="#3c3c3c" stroke-width="0.7" />
<clipPath id="clip230_2"><rect x="230.30" y="248.30" width="36.10" height="17.70"/></clipPath>
<rect x="230.30" y="248.30" width="36.10" height="17.70" fill="#bcbcbc" stroke="#3c3c3c" stroke-width="0.7" />
<g clip-path="url(#clip230_2)">
<path d="M230.50,255.80 C233.00,257.40 235.00,257.10 239.40,257.10 C243.80,257.10 245.80,257.40 248.30,255.80" fill="none" stroke="#484848" stroke-width="3.00" filter="url(#blur)"/>
<path d="M247.30,255.80 C249.80,257.40 251.80,257.10 256.80,257.10 C261.80,257.10 263.80,257.40 266.30,255.80" fill="none" stroke="#484848" stroke-width="3.00" filter="url(#blur)"/>
</g>
<rect x="230.30" y="248.30" width="36.10" height="17.70" fill="none" stroke="#3c3c3c" stroke-width="0.7" />
<clipPath id="clip230_3"><rect x="230.30" y="268.50" width="36.10" height="17.70"/></clipPath>
<rect x="230.30" y="268.50" width="36.10" height="17.70" fill="#dadada" stroke="#3c3c3c" stroke-width="0.7" />
<g clip-path="url(#clip230_3)">
</g>
<rect x="230.30" y="268.50" width="36.10" height="17.70" fill="none" stroke="#3c3c3c" stroke-width="0.7" />
<clipPath id="clip230_4"><rect x="230.30" y="288.70" width="36.10" height="17.70"/></clipPath>
<rect x="230.30" y="288.70" width="36.10" height="17.70" fill="#a2a2a2" stroke="#3c3c3c" stroke-width="0.7" />
<g clip-path="url(#clip230_4)">
<path d="M230.50,296.30 C233.00,297.80 235.00,297.50 239.40,297.50 C243.80,297.50 245.80,297.80 248.30,296.30" fill="none" stroke="#4a4a4a" stroke-width="4.00" filter="url(#blur)"/>
<path d="M247.30,296.30 C249.80,297.80 251.80,297.50 256.80,297.50 C261.80,297.50 263.80,297.80 266.30,296.30" fill="none" stroke="#4a4a4a" stroke-width="4.00" filter="url(#blur)"/>
</g>
<rect x="230.30" y="288.70" width="36.10" height="17.70" fill="none" stroke="#3c3c3c" stroke-width="0.7" />
<line x1="226.10" y1="190.70" x2="230.30" y2="190.70" stroke="#3c3c3c" stroke-width="0.7" />
<text x="224.30" y="193.40" font-size="7.8" text-anchor="end" fill="#231f20" font-weight="normal" font-style="normal" textLength="8.24" lengthAdjust="spacingAndGlyphs" >98</text>
<line x1="226.10" y1="206.60" x2="230.30" y2="206.60" stroke="#3c3c3c" stroke-width="0.7" />
<text x="224.30" y="209.30" font-size="7.8" text-anchor="end" fill="#231f20" font-weight="normal" font-style="normal" textLength="8.24" lengthAdjust="spacingAndGlyphs" >64</text>
<line x1="226.10" y1="223.80" x2="230.30" y2="223.80" stroke="#3c3c3c" stroke-width="0.7" />
<text x="224.30" y="226.50" font-size="7.8" text-anchor="end" fill="#231f20" font-weight="normal" font-style="normal" textLength="8.24" lengthAdjust="spacingAndGlyphs" >50</text>
<line x1="226.10" y1="230.10" x2="230.30" y2="230.10" stroke="#3c3c3c" stroke-width="0.7" />
<text x="224.30" y="232.80" font-size="7.8" text-anchor="end" fill="#231f20" font-weight="normal" font-style="normal" textLength="8.24" lengthAdjust="spacingAndGlyphs" >98</text>
<line x1="226.10" y1="250.30" x2="230.30" y2="250.30" stroke="#3c3c3c" stroke-width="0.7" />
<text x="224.30" y="253.00" font-size="7.8" text-anchor="end" fill="#231f20" font-weight="normal" font-style="normal" textLength="8.24" lengthAdjust="spacingAndGlyphs" >64</text>
<line x1="226.10" y1="284.90" x2="230.30" y2="284.90" stroke="#3c3c3c" stroke-width="0.7" />
<text x="224.30" y="287.60" font-size="7.8" text-anchor="end" fill="#231f20" font-weight="normal" font-style="normal" textLength="8.24" lengthAdjust="spacingAndGlyphs" >98</text>
<line x1="226.10" y1="297.50" x2="230.30" y2="297.50" stroke="#3c3c3c" stroke-width="0.7" />
<text x="224.30" y="300.20" font-size="7.8" text-anchor="end" fill="#231f20" font-weight="normal" font-style="normal" textLength="8.24" lengthAdjust="spacingAndGlyphs" >50</text>
<text x="270.80" y="192.30" font-size="7.5" text-anchor="start" fill="#231f20" font-weight="normal" font-style="normal" textLength="8.18" lengthAdjust="spacingAndGlyphs" >Lp</text>
<path d="M267.80,199.80 L272.80,196.80 L272.80,202.80 Z" fill="#111"/>
<text x="275.60" y="202.40" font-size="7.5" text-anchor="start" fill="#231f20" font-weight="normal" font-style="normal" textLength="30.63" lengthAdjust="spacingAndGlyphs" >PDHc-E2</text>
<path d="M267.80,213.00 L272.80,210.00 L272.80,216.00 Z" fill="#111"/>
<text x="275.60" y="215.60" font-size="7.5" text-anchor="start" fill="#231f20" font-weight="normal" font-style="normal" textLength="37.16" lengthAdjust="spacingAndGlyphs" >OGDHc-E2</text>
<text x="270.80" y="240.30" font-size="7.5" text-anchor="start" fill="#231f20" font-weight="normal" font-style="normal" textLength="30.63" lengthAdjust="spacingAndGlyphs" >PDHc-E2</text>
<text x="270.80" y="259.70" font-size="7.5" text-anchor="start" fill="#231f20" font-weight="normal" font-style="normal" textLength="37.16" lengthAdjust="spacingAndGlyphs" >OGDHc-E2</text>
<text x="270.80" y="279.90" font-size="7.5" text-anchor="start" fill="#231f20" font-weight="normal" font-style="normal" textLength="22.62" lengthAdjust="spacingAndGlyphs" >HIF-1α</text>
<text x="270.80" y="300.10" font-size="7.5" text-anchor="start" fill="#231f20" font-weight="normal" font-style="normal" textLength="23.02" lengthAdjust="spacingAndGlyphs" >β-Actin</text>
<text x="229.50" y="315.30" font-size="7.4" text-anchor="start" fill="#231f20" font-weight="normal" font-style="normal" textLength="66.50" lengthAdjust="spacingAndGlyphs" >Human CD8<tspan font-size="5" dy="-3">+</tspan><tspan dy="3"> T cells</tspan></text>
<line x1="365.50" y1="203.40" x2="365.50" y2="289.60" stroke="#555" stroke-width="0.8" />
<line x1="365.50" y1="289.60" x2="400.00" y2="289.60" stroke="#555" stroke-width="0.8" />
<line x1="362.50" y1="289.60" x2="365.50" y2="289.60" stroke="#555" stroke-width="0.8" />
<text x="359.00" y="292.40" font-size="8.0" text-anchor="end" fill="#231f20" font-weight="normal" font-style="normal" textLength="4.32" lengthAdjust="spacingAndGlyphs" >0</text>
<line x1="362.50" y1="260.87" x2="365.50" y2="260.87" stroke="#555" stroke-width="0.8" />
<text x="359.00" y="263.67" font-size="8.0" text-anchor="end" fill="#231f20" font-weight="normal" font-style="normal" textLength="10.79" lengthAdjust="spacingAndGlyphs" >0.5</text>
<line x1="362.50" y1="232.13" x2="365.50" y2="232.13" stroke="#555" stroke-width="0.8" />
<text x="359.00" y="234.93" font-size="8.0" text-anchor="end" fill="#231f20" font-weight="normal" font-style="normal" textLength="10.79" lengthAdjust="spacingAndGlyphs" >1.0</text>
<line x1="362.50" y1="203.40" x2="365.50" y2="203.40" stroke="#555" stroke-width="0.8" />
<text x="359.00" y="206.20" font-size="8.0" text-anchor="end" fill="#231f20" font-weight="normal" font-style="normal" textLength="10.79" lengthAdjust="spacingAndGlyphs" >1.5</text>
<line x1="374.60" y1="289.60" x2="374.60" y2="292.60" stroke="#555" stroke-width="0.8" />
<line x1="390.40" y1="289.60" x2="390.40" y2="292.60" stroke="#555" stroke-width="0.8" />
<text x="374.60" y="303.60" font-size="7.4" text-anchor="middle" fill="#231f20" font-weight="normal" font-style="normal" >–</text>
<text x="390.40" y="303.60" font-size="7.4" text-anchor="middle" fill="#231f20" font-weight="normal" font-style="normal" >+</text>
<text x="361.10" y="304.10" font-size="8.5" text-anchor="end" fill="#231f20" font-weight="normal" font-style="normal" textLength="25.99" lengthAdjust="spacingAndGlyphs" >ML226</text>
<line x1="367.50" y1="232.13" x2="400.00" y2="232.13" stroke="#aaa" stroke-width="0.8" stroke-dasharray="3,2"/>
<text x="340.70" y="183.60" font-size="8.5" text-anchor="start" fill="#231f20" font-weight="normal" font-style="normal" textLength="27.09" lengthAdjust="spacingAndGlyphs" >Day 11</text>
<text x="340.70" y="194.60" font-size="8.5" text-anchor="start" fill="#231f20" font-weight="normal" font-style="normal" textLength="54.79" lengthAdjust="spacingAndGlyphs" >OGDHc-E2 Lp</text>
<text x="381.60" y="217.00" font-size="8.2" text-anchor="middle" fill="#8a8a8a" font-weight="normal" font-style="normal" >0.044</text>
<line x1="369.30" y1="219.50" x2="394.20" y2="219.50" stroke="#aaa" stroke-width="0.8" />
<g transform="translate(328.00,246.50) rotate(-90)"><text x="0.00" y="0.00" font-size="7.9" text-anchor="middle" fill="#231f20" font-weight="normal" font-style="normal" textLength="46.00" lengthAdjust="spacingAndGlyphs" >Lipoyl/total</text></g>
<g transform="translate(337.50,246.50) rotate(-90)"><text x="0.00" y="0.00" font-size="7.9" text-anchor="middle" fill="#231f20" font-weight="normal" font-style="normal" textLength="76.00" lengthAdjust="spacingAndGlyphs" >(relative to vehicle)</text></g>
<circle cx="371.80" cy="232.13" r="1.90" fill="#a0a0a0" />
<circle cx="375.60" cy="232.13" r="1.90" fill="#a0a0a0" />
<circle cx="379.40" cy="232.13" r="1.90" fill="#a0a0a0" />
<circle cx="387.30" cy="244.78" r="1.90" fill="#f08a86" />
<circle cx="393.80" cy="244.78" r="1.90" fill="#f08a86" />
<circle cx="390.40" cy="255.12" r="1.90" fill="#f08a86" />
<line x1="390.40" y1="253.97" x2="390.40" y2="242.48" stroke="#444" stroke-width="0.7" />
<line x1="386.90" y1="248.80" x2="393.90" y2="248.80" stroke="#444" stroke-width="0.8" />
<line x1="388.40" y1="253.97" x2="392.40" y2="253.97" stroke="#444" stroke-width="0.7" />
<line x1="388.40" y1="242.48" x2="392.40" y2="242.48" stroke="#444" stroke-width="0.7" />
<text x="415.80" y="166.90" font-size="13" text-anchor="start" fill="#000" font-weight="bold" font-style="normal" stroke="#000" stroke-width="0.45">e</text>
<text x="452.50" y="195.00" font-size="8.6" text-anchor="start" fill="#231f20" font-weight="normal" font-style="normal" textLength="62.40" lengthAdjust="spacingAndGlyphs" >OGDHc activity</text>
<line x1="449.90" y1="200.10" x2="449.90" y2="289.60" stroke="#555" stroke-width="0.8" />
<line x1="449.90" y1="289.60" x2="585.20" y2="289.60" stroke="#555" stroke-width="0.8" />
<line x1="446.90" y1="289.60" x2="449.90" y2="289.60" stroke="#555" stroke-width="0.8" />
<text x="443.70" y="292.60" font-size="8.6" text-anchor="end" fill="#231f20" font-weight="normal" font-style="normal" textLength="4.59" lengthAdjust="spacingAndGlyphs" >0</text>
<line x1="446.90" y1="271.70" x2="449.90" y2="271.70" stroke="#555" stroke-width="0.8" />
<text x="443.70" y="274.70" font-size="8.6" text-anchor="end" fill="#231f20" font-weight="normal" font-style="normal" textLength="11.48" lengthAdjust="spacingAndGlyphs" >0.1</text>
<line x1="446.90" y1="253.80" x2="449.90" y2="253.80" stroke="#555" stroke-width="0.8" />
<text x="443.70" y="256.80" font-size="8.6" text-anchor="end" fill="#231f20" font-weight="normal" font-style="normal" textLength="11.48" lengthAdjust="spacingAndGlyphs" >0.2</text>
<line x1="446.90" y1="235.90" x2="449.90" y2="235.90" stroke="#555" stroke-width="0.8" />
<text x="443.70" y="238.90" font-size="8.6" text-anchor="end" fill="#231f20" font-weight="normal" font-style="normal" textLength="11.48" lengthAdjust="spacingAndGlyphs" >0.3</text>
<line x1="446.90" y1="218.00" x2="449.90" y2="218.00" stroke="#555" stroke-width="0.8" />
<text x="443.70" y="221.00" font-size="8.6" text-anchor="end" fill="#231f20" font-weight="normal" font-style="normal" textLength="11.48" lengthAdjust="spacingAndGlyphs" >0.4</text>
<line x1="446.90" y1="200.10" x2="449.90" y2="200.10" stroke="#555" stroke-width="0.8" />
<text x="443.70" y="203.10" font-size="8.6" text-anchor="end" fill="#231f20" font-weight="normal" font-style="normal" textLength="11.48" lengthAdjust="spacingAndGlyphs" >0.5</text>
<line x1="449.90" y1="289.60" x2="449.90" y2="292.60" stroke="#555" stroke-width="0.8" />
<text x="449.90" y="302.80" font-size="8.2" text-anchor="middle" fill="#231f20" font-weight="normal" font-style="normal" textLength="4.33" lengthAdjust="spacingAndGlyphs" >0</text>
<line x1="494.67" y1="289.60" x2="494.67" y2="292.60" stroke="#555" stroke-width="0.8" />
<text x="494.67" y="302.80" font-size="8.2" text-anchor="middle" fill="#231f20" font-weight="normal" font-style="normal" textLength="8.67" lengthAdjust="spacingAndGlyphs" >15</text>
<line x1="539.43" y1="289.60" x2="539.43" y2="292.60" stroke="#555" stroke-width="0.8" />
<text x="539.43" y="302.80" font-size="8.2" text-anchor="middle" fill="#231f20" font-weight="normal" font-style="normal" textLength="8.67" lengthAdjust="spacingAndGlyphs" >30</text>
<line x1="584.20" y1="289.60" x2="584.20" y2="292.60" stroke="#555" stroke-width="0.8" />
<text x="584.20" y="302.80" font-size="8.2" text-anchor="middle" fill="#231f20" font-weight="normal" font-style="normal" textLength="8.67" lengthAdjust="spacingAndGlyphs" >45</text>
<text x="516.80" y="313.80" font-size="8.6" text-anchor="middle" fill="#231f20" font-weight="normal" font-style="normal" textLength="41.50" lengthAdjust="spacingAndGlyphs" >Time (min)</text>
<g transform="translate(424.5,244.9) rotate(-90)"><text x="0.00" y="0.00" font-size="8.3" text-anchor="middle" fill="#231f20" font-weight="normal" font-style="normal" textLength="84.60" lengthAdjust="spacingAndGlyphs" >Absorbance (450 nm)</text></g>
<line x1="527.50" y1="254.99" x2="527.50" y2="258.66" stroke="#dcdcdc" stroke-width="0.6" />
<line x1="530.48" y1="255.08" x2="530.48" y2="260.01" stroke="#dcdcdc" stroke-width="0.6" />
<line x1="533.46" y1="254.43" x2="533.46" y2="259.36" stroke="#dcdcdc" stroke-width="0.6" />
<line x1="536.45" y1="253.10" x2="536.45" y2="259.75" stroke="#dcdcdc" stroke-width="0.6" />
<line x1="539.43" y1="253.93" x2="539.43" y2="259.38" stroke="#dcdcdc" stroke-width="0.6" />
<line x1="542.42" y1="252.69" x2="542.42" y2="259.47" stroke="#dcdcdc" stroke-width="0.6" />
<line x1="545.40" y1="253.89" x2="545.40" y2="260.28" stroke="#dcdcdc" stroke-width="0.6" />
<line x1="548.39" y1="252.53" x2="548.39" y2="259.65" stroke="#dcdcdc" stroke-width="0.6" />
<line x1="551.37" y1="254.03" x2="551.37" y2="259.43" stroke="#dcdcdc" stroke-width="0.6" />
<line x1="554.36" y1="254.22" x2="554.36" y2="256.88" stroke="#dcdcdc" stroke-width="0.6" />
<line x1="557.34" y1="252.34" x2="557.34" y2="258.75" stroke="#dcdcdc" stroke-width="0.6" />
<line x1="560.32" y1="253.61" x2="560.32" y2="260.58" stroke="#dcdcdc" stroke-width="0.6" />
<line x1="563.31" y1="253.57" x2="563.31" y2="260.22" stroke="#dcdcdc" stroke-width="0.6" />
<line x1="566.29" y1="254.17" x2="566.29" y2="259.01" stroke="#dcdcdc" stroke-width="0.6" />
<line x1="569.28" y1="252.05" x2="569.28" y2="257.67" stroke="#dcdcdc" stroke-width="0.6" />
<line x1="572.26" y1="254.41" x2="572.26" y2="257.33" stroke="#dcdcdc" stroke-width="0.6" />
<line x1="575.25" y1="252.21" x2="575.25" y2="258.46" stroke="#dcdcdc" stroke-width="0.6" />
<line x1="578.23" y1="253.48" x2="578.23" y2="258.34" stroke="#dcdcdc" stroke-width="0.6" />
<line x1="581.22" y1="253.68" x2="581.22" y2="257.00" stroke="#dcdcdc" stroke-width="0.6" />
<line x1="584.20" y1="254.41" x2="584.20" y2="256.54" stroke="#dcdcdc" stroke-width="0.6" />
<path d="M449.90,263.31 L452.88,262.33 L455.87,262.38 L458.85,261.56 L461.84,261.19 L464.82,262.07 L467.81,261.86 L470.79,259.77 L473.78,260.69 L476.76,260.42 L479.74,258.46 L482.73,259.47 L485.71,258.57 L488.70,259.22 L491.68,258.75 L494.67,259.68 L497.65,258.52 L500.64,257.90 L503.62,258.52 L506.60,257.94 L509.59,257.97 L512.57,259.15 L515.56,257.54 L518.54,257.78 L521.53,258.28 L524.51,258.75 L527.50,256.83 L530.48,257.55 L533.46,256.89 L536.45,256.42 L539.43,256.65 L542.42,256.08 L545.40,257.09 L548.39,256.09 L551.37,256.73 L554.36,255.55 L557.34,255.55 L560.32,257.10 L563.31,256.89 L566.29,256.59 L569.28,254.86 L572.26,255.87 L575.25,255.34 L578.23,255.91 L581.22,255.34 L584.20,255.48" fill="none" stroke="#dadada" stroke-width="1.3"/><circle cx="449.90" cy="263.31" r="1.70" fill="#dadada" /><circle cx="452.88" cy="262.33" r="1.70" fill="#dadada" /><circle cx="455.87" cy="262.38" r="1.70" fill="#dadada" /><circle cx="458.85" cy="261.56" r="1.70" fill="#dadada" /><circle cx="461.84" cy="261.19" r="1.70" fill="#dadada" /><circle cx="464.82" cy="262.07" r="1.70" fill="#dadada" /><circle cx="467.81" cy="261.86" r="1.70" fill="#dadada" /><circle cx="470.79" cy="259.77" r="1.70" fill="#dadada" /><circle cx="473.78" cy="260.69" r="1.70" fill="#dadada" /><circle cx="476.76" cy="260.42" r="1.70" fill="#dadada" /><circle cx="479.74" cy="258.46" r="1.70" fill="#dadada" /><circle cx="482.73" cy="259.47" r="1.70" fill="#dadada" /><circle cx="485.71" cy="258.57" r="1.70" fill="#dadada" /><circle cx="488.70" cy="259.22" r="1.70" fill="#dadada" /><circle cx="491.68" cy="258.75" r="1.70" fill="#dadada" /><circle cx="494.67" cy="259.68" r="1.70" fill="#dadada" /><circle cx="497.65" cy="258.52" r="1.70" fill="#dadada" /><circle cx="500.64" cy="257.90" r="1.70" fill="#dadada" /><circle cx="503.62" cy="258.52" r="1.70" fill="#dadada" /><circle cx="506.60" cy="257.94" r="1.70" fill="#dadada" /><circle cx="509.59" cy="257.97" r="1.70" fill="#dadada" /><circle cx="512.57" cy="259.15" r="1.70" fill="#dadada" /><circle cx="515.56" cy="257.54" r="1.70" fill="#dadada" /><circle cx="518.54" cy="257.78" r="1.70" fill="#dadada" /><circle cx="521.53" cy="258.28" r="1.70" fill="#dadada" /><circle cx="524.51" cy="258.75" r="1.70" fill="#dadada" /><circle cx="527.50" cy="256.83" r="1.70" fill="#dadada" /><circle cx="530.48" cy="257.55" r="1.70" fill="#dadada" /><circle cx="533.46" cy="256.89" r="1.70" fill="#dadada" /><circle cx="536.45" cy="256.42" r="1.70" fill="#dadada" /><circle cx="539.43" cy="256.65" r="1.70" fill="#dadada" /><circle cx="542.42" cy="256.08" r="1.70" fill="#dadada" /><circle cx="545.40" cy="257.09" r="1.70" fill="#dadada" /><circle cx="548.39" cy="256.09" r="1.70" fill="#dadada" /><circle cx="551.37" cy="256.73" r="1.70" fill="#dadada" /><circle cx="554.36" cy="255.55" r="1.70" fill="#dadada" /><circle cx="557.34" cy="255.55" r="1.70" fill="#dadada" /><circle cx="560.32" cy="257.10" r="1.70" fill="#dadada" /><circle cx="563.31" cy="256.89" r="1.70" fill="#dadada" /><circle cx="566.29" cy="256.59" r="1.70" fill="#dadada" /><circle cx="569.28" cy="254.86" r="1.70" fill="#dadada" /><circle cx="572.26" cy="255.87" r="1.70" fill="#dadada" /><circle cx="575.25" cy="255.34" r="1.70" fill="#dadada" /><circle cx="578.23" cy="255.91" r="1.70" fill="#dadada" /><circle cx="581.22" cy="255.34" r="1.70" fill="#dadada" /><circle cx="584.20" cy="255.48" r="1.70" fill="#dadada" />
<path d="M449.90,258.45 L452.88,257.94 L455.87,257.42 L458.85,256.90 L461.84,256.39 L464.82,255.33 L467.81,253.74 L470.79,252.15 L473.78,250.56 L476.76,248.97 L479.74,246.54 L482.73,244.11 L485.71,241.68 L488.70,239.25 L491.68,237.37 L494.67,235.62 L497.65,233.87 L500.64,232.13 L503.62,230.71 L506.60,229.43 L509.59,228.15 L512.57,226.87 L515.56,225.59 L518.54,224.74 L521.53,224.00 L524.51,223.25 L527.50,222.50 L530.48,221.76 L533.46,221.21 L536.45,220.65 L539.43,220.10 L542.42,219.55 L545.40,218.99 L548.39,218.52 L551.37,218.13 L554.36,217.74 L557.34,217.35 L560.32,216.96 L563.31,216.57 L566.29,216.31 L569.28,216.06 L572.26,215.80 L575.25,215.55 L578.23,215.29 L581.22,215.03 L584.20,214.78" fill="none" stroke="#a8a8a8" stroke-width="1.5"/><circle cx="449.90" cy="258.45" r="1.85" fill="#a8a8a8" /><circle cx="452.88" cy="257.94" r="1.85" fill="#a8a8a8" /><circle cx="455.87" cy="257.42" r="1.85" fill="#a8a8a8" /><circle cx="458.85" cy="256.90" r="1.85" fill="#a8a8a8" /><circle cx="461.84" cy="256.39" r="1.85" fill="#a8a8a8" /><circle cx="464.82" cy="255.33" r="1.85" fill="#a8a8a8" /><circle cx="467.81" cy="253.74" r="1.85" fill="#a8a8a8" /><circle cx="470.79" cy="252.15" r="1.85" fill="#a8a8a8" /><circle cx="473.78" cy="250.56" r="1.85" fill="#a8a8a8" /><circle cx="476.76" cy="248.97" r="1.85" fill="#a8a8a8" /><circle cx="479.74" cy="246.54" r="1.85" fill="#a8a8a8" /><circle cx="482.73" cy="244.11" r="1.85" fill="#a8a8a8" /><circle cx="485.71" cy="241.68" r="1.85" fill="#a8a8a8" /><circle cx="488.70" cy="239.25" r="1.85" fill="#a8a8a8" /><circle cx="491.68" cy="237.37" r="1.85" fill="#a8a8a8" /><circle cx="494.67" cy="235.62" r="1.85" fill="#a8a8a8" /><circle cx="497.65" cy="233.87" r="1.85" fill="#a8a8a8" /><circle cx="500.64" cy="232.13" r="1.85" fill="#a8a8a8" /><circle cx="503.62" cy="230.71" r="1.85" fill="#a8a8a8" /><circle cx="506.60" cy="229.43" r="1.85" fill="#a8a8a8" /><circle cx="509.59" cy="228.15" r="1.85" fill="#a8a8a8" /><circle cx="512.57" cy="226.87" r="1.85" fill="#a8a8a8" /><circle cx="515.56" cy="225.59" r="1.85" fill="#a8a8a8" /><circle cx="518.54" cy="224.74" r="1.85" fill="#a8a8a8" /><circle cx="521.53" cy="224.00" r="1.85" fill="#a8a8a8" /><circle cx="524.51" cy="223.25" r="1.85" fill="#a8a8a8" /><circle cx="527.50" cy="222.50" r="1.85" fill="#a8a8a8" /><circle cx="530.48" cy="221.76" r="1.85" fill="#a8a8a8" /><circle cx="533.46" cy="221.21" r="1.85" fill="#a8a8a8" /><circle cx="536.45" cy="220.65" r="1.85" fill="#a8a8a8" /><circle cx="539.43" cy="220.10" r="1.85" fill="#a8a8a8" /><circle cx="542.42" cy="219.55" r="1.85" fill="#a8a8a8" /><circle cx="545.40" cy="218.99" r="1.85" fill="#a8a8a8" /><circle cx="548.39" cy="218.52" r="1.85" fill="#a8a8a8" /><circle cx="551.37" cy="218.13" r="1.85" fill="#a8a8a8" /><circle cx="554.36" cy="217.74" r="1.85" fill="#a8a8a8" /><circle cx="557.34" cy="217.35" r="1.85" fill="#a8a8a8" /><circle cx="560.32" cy="216.96" r="1.85" fill="#a8a8a8" /><circle cx="563.31" cy="216.57" r="1.85" fill="#a8a8a8" /><circle cx="566.29" cy="216.31" r="1.85" fill="#a8a8a8" /><circle cx="569.28" cy="216.06" r="1.85" fill="#a8a8a8" /><circle cx="572.26" cy="215.80" r="1.85" fill="#a8a8a8" /><circle cx="575.25" cy="215.55" r="1.85" fill="#a8a8a8" /><circle cx="578.23" cy="215.29" r="1.85" fill="#a8a8a8" /><circle cx="581.22" cy="215.03" r="1.85" fill="#a8a8a8" /><circle cx="584.20" cy="214.78" r="1.85" fill="#a8a8a8" />
<path d="M449.90,262.57 L452.88,262.03 L455.87,261.49 L458.85,260.95 L461.84,260.41 L464.82,259.87 L467.81,259.33 L470.79,258.01 L473.78,256.35 L476.76,254.69 L479.74,253.03 L482.73,251.93 L485.71,251.21 L488.70,250.49 L491.68,249.77 L494.67,249.05 L497.65,248.33 L500.64,247.65 L503.62,247.04 L506.60,246.44 L509.59,245.83 L512.57,245.22 L515.56,244.61 L518.54,244.11 L521.53,243.64 L524.51,243.17 L527.50,242.47 L530.48,241.45 L533.46,240.66 L536.45,240.43 L539.43,240.20 L542.42,239.97 L545.40,239.74 L548.39,239.51 L551.37,239.28 L554.36,239.09 L557.34,238.89 L560.32,238.70 L563.31,238.51 L566.29,238.31 L569.28,238.12 L572.26,237.93 L575.25,237.73 L578.23,237.54 L581.22,237.35 L584.20,237.15" fill="none" stroke="#f5a09a" stroke-width="1.5"/><circle cx="449.90" cy="262.57" r="1.85" fill="#f5a09a" /><circle cx="452.88" cy="262.03" r="1.85" fill="#f5a09a" /><circle cx="455.87" cy="261.49" r="1.85" fill="#f5a09a" /><circle cx="458.85" cy="260.95" r="1.85" fill="#f5a09a" /><circle cx="461.84" cy="260.41" r="1.85" fill="#f5a09a" /><circle cx="464.82" cy="259.87" r="1.85" fill="#f5a09a" /><circle cx="467.81" cy="259.33" r="1.85" fill="#f5a09a" /><circle cx="470.79" cy="258.01" r="1.85" fill="#f5a09a" /><circle cx="473.78" cy="256.35" r="1.85" fill="#f5a09a" /><circle cx="476.76" cy="254.69" r="1.85" fill="#f5a09a" /><circle cx="479.74" cy="253.03" r="1.85" fill="#f5a09a" /><circle cx="482.73" cy="251.93" r="1.85" fill="#f5a09a" /><circle cx="485.71" cy="251.21" r="1.85" fill="#f5a09a" /><circle cx="488.70" cy="250.49" r="1.85" fill="#f5a09a" /><circle cx="491.68" cy="249.77" r="1.85" fill="#f5a09a" /><circle cx="494.67" cy="249.05" r="1.85" fill="#f5a09a" /><circle cx="497.65" cy="248.33" r="1.85" fill="#f5a09a" /><circle cx="500.64" cy="247.65" r="1.85" fill="#f5a09a" /><circle cx="503.62" cy="247.04" r="1.85" fill="#f5a09a" /><circle cx="506.60" cy="246.44" r="1.85" fill="#f5a09a" /><circle cx="509.59" cy="245.83" r="1.85" fill="#f5a09a" /><circle cx="512.57" cy="245.22" r="1.85" fill="#f5a09a" /><circle cx="515.56" cy="244.61" r="1.85" fill="#f5a09a" /><circle cx="518.54" cy="244.11" r="1.85" fill="#f5a09a" /><circle cx="521.53" cy="243.64" r="1.85" fill="#f5a09a" /><circle cx="524.51" cy="243.17" r="1.85" fill="#f5a09a" /><circle cx="527.50" cy="242.47" r="1.85" fill="#f5a09a" /><circle cx="530.48" cy="241.45" r="1.85" fill="#f5a09a" /><circle cx="533.46" cy="240.66" r="1.85" fill="#f5a09a" /><circle cx="536.45" cy="240.43" r="1.85" fill="#f5a09a" /><circle cx="539.43" cy="240.20" r="1.85" fill="#f5a09a" /><circle cx="542.42" cy="239.97" r="1.85" fill="#f5a09a" /><circle cx="545.40" cy="239.74" r="1.85" fill="#f5a09a" /><circle cx="548.39" cy="239.51" r="1.85" fill="#f5a09a" /><circle cx="551.37" cy="239.28" r="1.85" fill="#f5a09a" /><circle cx="554.36" cy="239.09" r="1.85" fill="#f5a09a" /><circle cx="557.34" cy="238.89" r="1.85" fill="#f5a09a" /><circle cx="560.32" cy="238.70" r="1.85" fill="#f5a09a" /><circle cx="563.31" cy="238.51" r="1.85" fill="#f5a09a" /><circle cx="566.29" cy="238.31" r="1.85" fill="#f5a09a" /><circle cx="569.28" cy="238.12" r="1.85" fill="#f5a09a" /><circle cx="572.26" cy="237.93" r="1.85" fill="#f5a09a" /><circle cx="575.25" cy="237.73" r="1.85" fill="#f5a09a" /><circle cx="578.23" cy="237.54" r="1.85" fill="#f5a09a" /><circle cx="581.22" cy="237.35" r="1.85" fill="#f5a09a" /><circle cx="584.20" cy="237.15" r="1.85" fill="#f5a09a" />
<path d="M449.90,264.36 L452.88,263.94 L455.87,263.53 L458.85,263.11 L461.84,262.69 L464.82,262.27 L467.81,261.86 L470.79,261.66 L473.78,261.47 L476.76,261.28 L479.74,261.09 L482.73,260.90 L485.71,260.70 L488.70,260.51 L491.68,260.32 L494.67,260.13 L497.65,259.94 L500.64,259.75 L503.62,259.55 L506.60,259.36 L509.59,259.17 L512.57,258.88 L515.56,258.58 L518.54,258.29 L521.53,258.00 L524.51,257.71 L527.50,257.41 L530.48,257.12 L533.46,256.83 L536.45,256.54 L539.43,256.24 L542.42,256.02 L545.40,255.83 L548.39,255.65 L551.37,255.46 L554.36,255.28 L557.34,255.10 L560.32,254.91 L563.31,254.73 L566.29,254.55 L569.28,254.36 L572.26,254.18 L575.25,253.99 L578.23,253.81 L581.22,253.63 L584.20,253.44" fill="none" stroke="#118a4a" stroke-width="1.5"/><circle cx="449.90" cy="264.36" r="1.85" fill="#118a4a" /><circle cx="452.88" cy="263.94" r="1.85" fill="#118a4a" /><circle cx="455.87" cy="263.53" r="1.85" fill="#118a4a" /><circle cx="458.85" cy="263.11" r="1.85" fill="#118a4a" /><circle cx="461.84" cy="262.69" r="1.85" fill="#118a4a" /><circle cx="464.82" cy="262.27" r="1.85" fill="#118a4a" /><circle cx="467.81" cy="261.86" r="1.85" fill="#118a4a" /><circle cx="470.79" cy="261.66" r="1.85" fill="#118a4a" /><circle cx="473.78" cy="261.47" r="1.85" fill="#118a4a" /><circle cx="476.76" cy="261.28" r="1.85" fill="#118a4a" /><circle cx="479.74" cy="261.09" r="1.85" fill="#118a4a" /><circle cx="482.73" cy="260.90" r="1.85" fill="#118a4a" /><circle cx="485.71" cy="260.70" r="1.85" fill="#118a4a" /><circle cx="488.70" cy="260.51" r="1.85" fill="#118a4a" /><circle cx="491.68" cy="260.32" r="1.85" fill="#118a4a" /><circle cx="494.67" cy="260.13" r="1.85" fill="#118a4a" /><circle cx="497.65" cy="259.94" r="1.85" fill="#118a4a" /><circle cx="500.64" cy="259.75" r="1.85" fill="#118a4a" /><circle cx="503.62" cy="259.55" r="1.85" fill="#118a4a" /><circle cx="506.60" cy="259.36" r="1.85" fill="#118a4a" /><circle cx="509.59" cy="259.17" r="1.85" fill="#118a4a" /><circle cx="512.57" cy="258.88" r="1.85" fill="#118a4a" /><circle cx="515.56" cy="258.58" r="1.85" fill="#118a4a" /><circle cx="518.54" cy="258.29" r="1.85" fill="#118a4a" /><circle cx="521.53" cy="258.00" r="1.85" fill="#118a4a" /><circle cx="524.51" cy="257.71" r="1.85" fill="#118a4a" /><circle cx="527.50" cy="257.41" r="1.85" fill="#118a4a" /><circle cx="530.48" cy="257.12" r="1.85" fill="#118a4a" /><circle cx="533.46" cy="256.83" r="1.85" fill="#118a4a" /><circle cx="536.45" cy="256.54" r="1.85" fill="#118a4a" /><circle cx="539.43" cy="256.24" r="1.85" fill="#118a4a" /><circle cx="542.42" cy="256.02" r="1.85" fill="#118a4a" /><circle cx="545.40" cy="255.83" r="1.85" fill="#118a4a" /><circle cx="548.39" cy="255.65" r="1.85" fill="#118a4a" /><circle cx="551.37" cy="255.46" r="1.85" fill="#118a4a" /><circle cx="554.36" cy="255.28" r="1.85" fill="#118a4a" /><circle cx="557.34" cy="255.10" r="1.85" fill="#118a4a" /><circle cx="560.32" cy="254.91" r="1.85" fill="#118a4a" /><circle cx="563.31" cy="254.73" r="1.85" fill="#118a4a" /><circle cx="566.29" cy="254.55" r="1.85" fill="#118a4a" /><circle cx="569.28" cy="254.36" r="1.85" fill="#118a4a" /><circle cx="572.26" cy="254.18" r="1.85" fill="#118a4a" /><circle cx="575.25" cy="253.99" r="1.85" fill="#118a4a" /><circle cx="578.23" cy="253.81" r="1.85" fill="#118a4a" /><circle cx="581.22" cy="253.63" r="1.85" fill="#118a4a" /><circle cx="584.20" cy="253.44" r="1.85" fill="#118a4a" />
<line x1="487.10" y1="272.30" x2="498.10" y2="272.30" stroke="#a3a3a3" stroke-width="1.0" /><circle cx="492.60" cy="272.30" r="1.80" fill="#a3a3a3" /><text x="500.40" y="275.00" font-size="7.7" text-anchor="start" fill="#231f20" font-weight="normal" font-style="normal" textLength="24.58" lengthAdjust="spacingAndGlyphs" >Vehicle</text>
<line x1="533.70" y1="272.30" x2="544.70" y2="272.30" stroke="#f49a94" stroke-width="1.0" /><circle cx="539.20" cy="272.30" r="1.80" fill="#f49a94" /><text x="547.00" y="275.00" font-size="7.7" text-anchor="start" fill="#231f20" font-weight="normal" font-style="normal" textLength="23.31" lengthAdjust="spacingAndGlyphs" >ML226</text>
<line x1="487.10" y1="282.80" x2="498.10" y2="282.80" stroke="#138a4c" stroke-width="1.0" /><circle cx="492.60" cy="282.80" r="1.80" fill="#138a4c" /><text x="500.40" y="285.50" font-size="7.7" text-anchor="start" fill="#231f20" font-weight="normal" font-style="normal" textLength="16.52" lengthAdjust="spacingAndGlyphs" >KMV</text>
<line x1="533.70" y1="282.80" x2="544.70" y2="282.80" stroke="#d6d6d6" stroke-width="1.0" /><circle cx="539.20" cy="282.80" r="1.80" fill="#d6d6d6" /><text x="547.00" y="285.50" font-size="7.7" text-anchor="start" fill="#231f20" font-weight="normal" font-style="normal" textLength="40.68" lengthAdjust="spacingAndGlyphs" >Background</text>
<text x="598.60" y="166.90" font-size="13" text-anchor="start" fill="#000" font-weight="bold" font-style="normal" stroke="#000" stroke-width="0.45">f</text>
<line x1="632.30" y1="200.45" x2="632.30" y2="289.45" stroke="#555" stroke-width="0.8" />
<line x1="632.30" y1="289.45" x2="685.00" y2="289.45" stroke="#555" stroke-width="0.8" />
<line x1="629.30" y1="289.45" x2="632.30" y2="289.45" stroke="#555" stroke-width="0.8" />
<text x="626.80" y="292.45" font-size="8.5" text-anchor="end" fill="#231f20" font-weight="normal" font-style="normal" textLength="15.88" lengthAdjust="spacingAndGlyphs" >–0.5</text>
<line x1="629.30" y1="267.20" x2="632.30" y2="267.20" stroke="#555" stroke-width="0.8" />
<text x="626.80" y="270.20" font-size="8.5" text-anchor="end" fill="#231f20" font-weight="normal" font-style="normal" textLength="4.54" lengthAdjust="spacingAndGlyphs" >0</text>
<line x1="629.30" y1="244.95" x2="632.30" y2="244.95" stroke="#555" stroke-width="0.8" />
<text x="626.80" y="247.95" font-size="8.5" text-anchor="end" fill="#231f20" font-weight="normal" font-style="normal" textLength="11.34" lengthAdjust="spacingAndGlyphs" >0.5</text>
<line x1="629.30" y1="222.70" x2="632.30" y2="222.70" stroke="#555" stroke-width="0.8" />
<text x="626.80" y="225.70" font-size="8.5" text-anchor="end" fill="#231f20" font-weight="normal" font-style="normal" textLength="11.34" lengthAdjust="spacingAndGlyphs" >1.0</text>
<line x1="629.30" y1="200.45" x2="632.30" y2="200.45" stroke="#555" stroke-width="0.8" />
<text x="626.80" y="203.45" font-size="8.5" text-anchor="end" fill="#231f20" font-weight="normal" font-style="normal" textLength="11.34" lengthAdjust="spacingAndGlyphs" >1.5</text>
<line x1="634.30" y1="267.20" x2="685.00" y2="267.20" stroke="#bbb" stroke-width="0.8" stroke-dasharray="3,2"/>
<line x1="643.00" y1="289.45" x2="643.00" y2="292.45" stroke="#555" stroke-width="0.8" />
<g transform="translate(646.40,298.60) rotate(-42)"><text x="0.00" y="0.00" font-size="9.2" text-anchor="end" fill="#231f20" font-weight="normal" font-style="normal" textLength="29.67" lengthAdjust="spacingAndGlyphs" >Vehicle</text></g>
<line x1="658.50" y1="289.45" x2="658.50" y2="292.45" stroke="#555" stroke-width="0.8" />
<g transform="translate(661.90,298.60) rotate(-42)"><text x="0.00" y="0.00" font-size="9.2" text-anchor="end" fill="#231f20" font-weight="normal" font-style="normal" textLength="28.13" lengthAdjust="spacingAndGlyphs" >ML226</text></g>
<line x1="674.10" y1="289.45" x2="674.10" y2="292.45" stroke="#555" stroke-width="0.8" />
<g transform="translate(677.50,298.60) rotate(-42)"><text x="0.00" y="0.00" font-size="9.2" text-anchor="end" fill="#231f20" font-weight="normal" font-style="normal" textLength="19.94" lengthAdjust="spacingAndGlyphs" >KMV</text></g>
<text x="651.00" y="206.80" font-size="8.0" text-anchor="middle" fill="#8a8a8a" font-weight="normal" font-style="normal" >0.018</text>
<line x1="638.00" y1="209.80" x2="663.80" y2="209.80" stroke="#999" stroke-width="0.8" />
<g transform="translate(607.0,245.3) rotate(-90)"><text x="0.00" y="0.00" font-size="8.3" text-anchor="middle" fill="#231f20" font-weight="normal" font-style="normal" textLength="70.00" lengthAdjust="spacingAndGlyphs" >Slope (a.u., ×10<tspan font-size="5.5" dy="-3">–2</tspan><tspan dy="3">)</tspan></text></g>
<line x1="643.00" y1="229.38" x2="643.00" y2="216.47" stroke="#444" stroke-width="0.7" />
<line x1="639.20" y1="223.14" x2="646.80" y2="223.14" stroke="#444" stroke-width="0.8" />
<line x1="640.80" y1="229.38" x2="645.20" y2="229.38" stroke="#444" stroke-width="0.7" />
<line x1="640.80" y1="216.47" x2="645.20" y2="216.47" stroke="#444" stroke-width="0.7" />
<circle cx="643.40" cy="213.80" r="1.90" fill="#a3a3a3" />
<circle cx="639.70" cy="224.03" r="1.90" fill="#a3a3a3" />
<circle cx="646.40" cy="225.81" r="1.90" fill="#a3a3a3" />
<circle cx="643.40" cy="231.60" r="1.90" fill="#a3a3a3" />
<line x1="658.50" y1="248.51" x2="658.50" y2="241.83" stroke="#444" stroke-width="0.7" />
<line x1="654.70" y1="245.39" x2="662.30" y2="245.39" stroke="#444" stroke-width="0.8" />
<line x1="656.30" y1="248.51" x2="660.70" y2="248.51" stroke="#444" stroke-width="0.7" />
<line x1="656.30" y1="241.83" x2="660.70" y2="241.83" stroke="#444" stroke-width="0.7" />
<circle cx="658.50" cy="240.05" r="1.90" fill="#f49a94" />
<circle cx="655.10" cy="248.51" r="1.90" fill="#f49a94" />
<circle cx="662.60" cy="245.84" r="1.90" fill="#f49a94" />
<circle cx="658.50" cy="245.39" r="1.90" fill="#f49a94" />
<line x1="674.10" y1="276.10" x2="674.10" y2="264.53" stroke="#444" stroke-width="0.7" />
<line x1="670.30" y1="270.31" x2="677.90" y2="270.31" stroke="#444" stroke-width="0.8" />
<line x1="671.90" y1="276.10" x2="676.30" y2="276.10" stroke="#444" stroke-width="0.7" />
<line x1="671.90" y1="264.53" x2="676.30" y2="264.53" stroke="#444" stroke-width="0.7" />
<circle cx="674.10" cy="262.75" r="1.90" fill="#138a4c" />
<circle cx="670.70" cy="270.31" r="1.90" fill="#138a4c" />
<circle cx="678.10" cy="271.20" r="1.90" fill="#138a4c" />
<circle cx="674.10" cy="277.44" r="1.90" fill="#138a4c" />
<defs><clipPath id="gall"><rect x="0" y="325" width="358.5" height="269"/></clipPath></defs><g clip-path="url(#gall)">
<text x="0.00" y="345.30" font-size="13" text-anchor="start" fill="#000" font-weight="bold" font-style="normal" stroke="#000" stroke-width="0.45">g</text>
<defs><clipPath id="gclip"><rect x="34.2" y="335" width="324" height="227"/></clipPath></defs>
<line x1="33.80" y1="339.50" x2="33.80" y2="562.30" stroke="#555" stroke-width="0.8" />
<line x1="33.80" y1="562.30" x2="358.00" y2="562.30" stroke="#555" stroke-width="0.8" />
<line x1="30.80" y1="553.00" x2="33.80" y2="553.00" stroke="#555" stroke-width="0.8" />
<text x="25.00" y="555.70" font-size="7.6" text-anchor="end" fill="#231f20" font-weight="normal" font-style="normal" textLength="4.06" lengthAdjust="spacingAndGlyphs" >0</text>
<line x1="30.80" y1="490.00" x2="33.80" y2="490.00" stroke="#555" stroke-width="0.8" />
<text x="25.00" y="492.70" font-size="7.6" text-anchor="end" fill="#231f20" font-weight="normal" font-style="normal" textLength="4.06" lengthAdjust="spacingAndGlyphs" >5</text>
<line x1="30.80" y1="427.00" x2="33.80" y2="427.00" stroke="#555" stroke-width="0.8" />
<text x="25.00" y="429.70" font-size="7.6" text-anchor="end" fill="#231f20" font-weight="normal" font-style="normal" textLength="8.12" lengthAdjust="spacingAndGlyphs" >10</text>
<line x1="30.80" y1="364.00" x2="33.80" y2="364.00" stroke="#555" stroke-width="0.8" />
<text x="25.00" y="366.70" font-size="7.6" text-anchor="end" fill="#231f20" font-weight="normal" font-style="normal" textLength="8.12" lengthAdjust="spacingAndGlyphs" >15</text>
<line x1="67.70" y1="562.30" x2="67.70" y2="565.30" stroke="#555" stroke-width="0.8" />
<text x="66.20" y="574.50" font-size="7.8" text-anchor="middle" fill="#231f20" font-weight="normal" font-style="normal" >–6</text>
<line x1="110.80" y1="562.30" x2="110.80" y2="565.30" stroke="#555" stroke-width="0.8" />
<text x="109.30" y="574.50" font-size="7.8" text-anchor="middle" fill="#231f20" font-weight="normal" font-style="normal" >–4</text>
<line x1="153.90" y1="562.30" x2="153.90" y2="565.30" stroke="#555" stroke-width="0.8" />
<text x="152.40" y="574.50" font-size="7.8" text-anchor="middle" fill="#231f20" font-weight="normal" font-style="normal" >–2</text>
<line x1="197.00" y1="562.30" x2="197.00" y2="565.30" stroke="#555" stroke-width="0.8" />
<text x="197.00" y="574.50" font-size="7.8" text-anchor="middle" fill="#231f20" font-weight="normal" font-style="normal" >0</text>
<line x1="240.10" y1="562.30" x2="240.10" y2="565.30" stroke="#555" stroke-width="0.8" />
<text x="240.10" y="574.50" font-size="7.8" text-anchor="middle" fill="#231f20" font-weight="normal" font-style="normal" >2</text>
<line x1="283.20" y1="562.30" x2="283.20" y2="565.30" stroke="#555" stroke-width="0.8" />
<text x="283.20" y="574.50" font-size="7.8" text-anchor="middle" fill="#231f20" font-weight="normal" font-style="normal" >4</text>
<line x1="326.30" y1="562.30" x2="326.30" y2="565.30" stroke="#555" stroke-width="0.8" />
<text x="326.30" y="574.50" font-size="7.8" text-anchor="middle" fill="#231f20" font-weight="normal" font-style="normal" >6</text>
<text x="196.40" y="590.80" font-size="8.8" text-anchor="middle" fill="#231f20" font-weight="normal" font-style="normal" textLength="70.50" lengthAdjust="spacingAndGlyphs" >log<tspan font-size="6" dy="2">2</tspan><tspan dy="-2">(fold change)</tspan></text>
<g transform="translate(10.8,443.5) rotate(-90)"><text x="0.00" y="0.00" font-size="7.9" text-anchor="middle" fill="#231f20" font-weight="normal" font-style="normal" textLength="57.00" lengthAdjust="spacingAndGlyphs" >–log<tspan font-size="6" dy="2">10</tspan><tspan dy="-2">(</tspan><tspan font-style="italic">P</tspan><tspan font-size="5.8" dy="2">adj</tspan><tspan dy="-2">)</tspan></text></g>
<g clip-path="url(#gclip)">
<g fill="#666" fill-opacity="0.56"><circle cx="225.2" cy="545.4" r="3.75"/><circle cx="158.5" cy="546.8" r="3.75"/><circle cx="164.6" cy="542.3" r="3.75"/><circle cx="201.9" cy="537.8" r="3.75"/><circle cx="185.9" cy="542.7" r="3.75"/><circle cx="209.1" cy="539.3" r="3.75"/><circle cx="222.3" cy="550.3" r="3.75"/><circle cx="236.7" cy="542.7" r="3.75"/><circle cx="200.3" cy="550.5" r="3.75"/><circle cx="225.2" cy="550.7" r="3.75"/><circle cx="199.4" cy="550.1" r="3.75"/><circle cx="230.5" cy="544.0" r="3.75"/><circle cx="153.1" cy="551.7" r="3.75"/><circle cx="183.8" cy="546.9" r="3.75"/><circle cx="209.2" cy="541.5" r="3.75"/><circle cx="222.8" cy="550.6" r="3.75"/><circle cx="161.5" cy="543.8" r="3.75"/><circle cx="228.7" cy="547.6" r="3.75"/><circle cx="186.0" cy="542.9" r="3.75"/><circle cx="243.5" cy="540.6" r="3.75"/><circle cx="217.1" cy="546.6" r="3.75"/><circle cx="202.0" cy="548.7" r="3.75"/><circle cx="151.0" cy="542.6" r="3.75"/><circle cx="237.0" cy="537.9" r="3.75"/><circle cx="233.8" cy="547.1" r="3.75"/><circle cx="233.8" cy="551.6" r="3.75"/><circle cx="186.0" cy="543.6" r="3.75"/><circle cx="238.1" cy="546.0" r="3.75"/><circle cx="150.4" cy="547.7" r="3.75"/><circle cx="243.7" cy="546.4" r="3.75"/><circle cx="230.9" cy="541.0" r="3.75"/><circle cx="206.0" cy="545.6" r="3.75"/><circle cx="220.7" cy="553.3" r="3.75"/><circle cx="175.5" cy="551.6" r="3.75"/><circle cx="211.7" cy="547.6" r="3.75"/><circle cx="183.0" cy="547.6" r="3.75"/><circle cx="181.1" cy="544.2" r="3.75"/><circle cx="202.5" cy="545.4" r="3.75"/><circle cx="155.8" cy="545.5" r="3.75"/><circle cx="159.4" cy="545.3" r="3.75"/><circle cx="224.1" cy="544.4" r="3.75"/><circle cx="220.9" cy="544.2" r="3.75"/><circle cx="177.1" cy="541.5" r="3.75"/><circle cx="184.1" cy="549.7" r="3.75"/><circle cx="162.4" cy="539.6" r="3.75"/><circle cx="231.3" cy="550.5" r="3.75"/><circle cx="203.6" cy="546.4" r="3.75"/><circle cx="202.4" cy="549.1" r="3.75"/><circle cx="171.4" cy="547.5" r="3.75"/><circle cx="234.5" cy="551.4" r="3.75"/><circle cx="154.3" cy="546.6" r="3.75"/><circle cx="247.1" cy="548.6" r="3.75"/><circle cx="243.6" cy="540.1" r="3.75"/><circle cx="224.9" cy="543.9" r="3.75"/><circle cx="162.1" cy="539.4" r="3.75"/><circle cx="195.5" cy="548.0" r="3.75"/><circle cx="183.1" cy="547.3" r="3.75"/><circle cx="175.0" cy="552.7" r="3.75"/><circle cx="197.7" cy="551.0" r="3.75"/><circle cx="171.5" cy="546.9" r="3.75"/><circle cx="149.1" cy="538.4" r="3.75"/><circle cx="174.2" cy="550.1" r="3.75"/><circle cx="243.4" cy="545.4" r="3.75"/><circle cx="183.6" cy="547.4" r="3.75"/><circle cx="231.6" cy="546.2" r="3.75"/><circle cx="193.5" cy="545.3" r="3.75"/><circle cx="219.1" cy="541.0" r="3.75"/><circle cx="184.0" cy="545.2" r="3.75"/><circle cx="165.1" cy="545.2" r="3.75"/><circle cx="238.6" cy="543.5" r="3.75"/><circle cx="230.7" cy="541.3" r="3.75"/><circle cx="245.1" cy="542.3" r="3.75"/><circle cx="212.6" cy="548.0" r="3.75"/><circle cx="157.1" cy="550.2" r="3.75"/><circle cx="181.6" cy="553.5" r="3.75"/><circle cx="160.7" cy="540.7" r="3.75"/><circle cx="252.2" cy="548.8" r="3.75"/><circle cx="166.7" cy="547.5" r="3.75"/><circle cx="210.6" cy="540.9" r="3.75"/><circle cx="215.1" cy="540.6" r="3.75"/><circle cx="202.6" cy="548.7" r="3.75"/><circle cx="199.6" cy="543.9" r="3.75"/><circle cx="176.0" cy="543.3" r="3.75"/><circle cx="228.6" cy="538.9" r="3.75"/><circle cx="190.0" cy="543.9" r="3.75"/><circle cx="218.8" cy="544.1" r="3.75"/><circle cx="154.9" cy="537.9" r="3.75"/><circle cx="174.6" cy="548.6" r="3.75"/><circle cx="154.9" cy="549.6" r="3.75"/><circle cx="231.9" cy="538.6" r="3.75"/><circle cx="161.1" cy="545.6" r="3.75"/><circle cx="212.1" cy="539.2" r="3.75"/><circle cx="179.1" cy="539.8" r="3.75"/><circle cx="177.1" cy="540.3" r="3.75"/><circle cx="156.0" cy="546.8" r="3.75"/><circle cx="224.6" cy="544.1" r="3.75"/><circle cx="221.0" cy="538.0" r="3.75"/><circle cx="160.3" cy="547.9" r="3.75"/><circle cx="176.3" cy="540.7" r="3.75"/><circle cx="242.5" cy="547.6" r="3.75"/><circle cx="187.3" cy="541.3" r="3.75"/><circle cx="177.2" cy="545.5" r="3.75"/><circle cx="247.9" cy="540.4" r="3.75"/><circle cx="228.3" cy="545.3" r="3.75"/><circle cx="154.4" cy="550.4" r="3.75"/><circle cx="202.0" cy="539.1" r="3.75"/><circle cx="146.6" cy="546.5" r="3.75"/><circle cx="174.9" cy="546.7" r="3.75"/><circle cx="176.8" cy="537.3" r="3.75"/><circle cx="233.2" cy="543.9" r="3.75"/><circle cx="211.9" cy="543.6" r="3.75"/><circle cx="220.7" cy="546.1" r="3.75"/><circle cx="156.8" cy="538.4" r="3.75"/><circle cx="234.6" cy="552.9" r="3.75"/><circle cx="221.7" cy="545.8" r="3.75"/><circle cx="157.0" cy="552.3" r="3.75"/><circle cx="241.0" cy="539.8" r="3.75"/><circle cx="206.1" cy="551.4" r="3.75"/><circle cx="240.4" cy="540.6" r="3.75"/><circle cx="245.8" cy="540.4" r="3.75"/><circle cx="184.8" cy="547.3" r="3.75"/><circle cx="178.1" cy="541.8" r="3.75"/><circle cx="169.5" cy="541.7" r="3.75"/><circle cx="200.6" cy="539.7" r="3.75"/><circle cx="184.1" cy="548.4" r="3.75"/><circle cx="191.2" cy="544.1" r="3.75"/><circle cx="218.4" cy="538.6" r="3.75"/><circle cx="198.1" cy="548.8" r="3.75"/><circle cx="203.2" cy="546.9" r="3.75"/><circle cx="219.5" cy="546.0" r="3.75"/><circle cx="145.9" cy="546.0" r="3.75"/><circle cx="154.0" cy="544.9" r="3.75"/><circle cx="191.1" cy="547.7" r="3.75"/><circle cx="233.5" cy="552.2" r="3.75"/><circle cx="203.4" cy="544.7" r="3.75"/><circle cx="212.2" cy="537.1" r="3.75"/><circle cx="211.6" cy="538.4" r="3.75"/><circle cx="193.4" cy="552.9" r="3.75"/><circle cx="212.7" cy="540.3" r="3.75"/><circle cx="236.7" cy="549.3" r="3.75"/><circle cx="237.3" cy="551.9" r="3.75"/><circle cx="231.1" cy="548.5" r="3.75"/><circle cx="165.7" cy="543.2" r="3.75"/><circle cx="164.1" cy="543.9" r="3.75"/><circle cx="212.8" cy="540.6" r="3.75"/><circle cx="201.2" cy="549.3" r="3.75"/><circle cx="219.3" cy="545.0" r="3.75"/><circle cx="190.9" cy="543.8" r="3.75"/><circle cx="161.5" cy="541.5" r="3.75"/><circle cx="163.7" cy="552.3" r="3.75"/><circle cx="183.2" cy="545.2" r="3.75"/><circle cx="180.2" cy="547.7" r="3.75"/><circle cx="204.5" cy="538.9" r="3.75"/><circle cx="167.9" cy="551.5" r="3.75"/><circle cx="158.0" cy="551.1" r="3.75"/><circle cx="187.6" cy="550.4" r="3.75"/><circle cx="243.6" cy="544.2" r="3.75"/><circle cx="243.6" cy="550.3" r="3.75"/><circle cx="165.4" cy="542.0" r="3.75"/><circle cx="160.7" cy="547.7" r="3.75"/><circle cx="205.0" cy="549.2" r="3.75"/><circle cx="213.4" cy="544.4" r="3.75"/><circle cx="189.5" cy="552.1" r="3.75"/><circle cx="160.7" cy="552.7" r="3.75"/><circle cx="227.1" cy="540.5" r="3.75"/><circle cx="183.5" cy="540.2" r="3.75"/><circle cx="154.6" cy="541.8" r="3.75"/><circle cx="163.6" cy="552.0" r="3.75"/><circle cx="218.6" cy="545.0" r="3.75"/><circle cx="241.4" cy="549.6" r="3.75"/><circle cx="210.1" cy="543.2" r="3.75"/><circle cx="166.6" cy="542.3" r="3.75"/><circle cx="210.7" cy="551.1" r="3.75"/><circle cx="151.2" cy="547.4" r="3.75"/><circle cx="250.7" cy="548.8" r="3.75"/><circle cx="187.0" cy="545.5" r="3.75"/><circle cx="163.8" cy="541.2" r="3.75"/><circle cx="216.6" cy="545.0" r="3.75"/><circle cx="185.4" cy="543.0" r="3.75"/><circle cx="210.3" cy="546.3" r="3.75"/><circle cx="240.1" cy="540.6" r="3.75"/><circle cx="244.1" cy="548.3" r="3.75"/><circle cx="198.5" cy="550.5" r="3.75"/><circle cx="193.8" cy="544.6" r="3.75"/><circle cx="153.6" cy="541.7" r="3.75"/><circle cx="187.4" cy="550.9" r="3.75"/><circle cx="246.0" cy="543.5" r="3.75"/><circle cx="251.8" cy="548.6" r="3.75"/><circle cx="160.6" cy="552.7" r="3.75"/><circle cx="199.7" cy="546.5" r="3.75"/><circle cx="217.8" cy="539.9" r="3.75"/><circle cx="223.5" cy="542.7" r="3.75"/><circle cx="167.6" cy="540.2" r="3.75"/><circle cx="208.4" cy="547.7" r="3.75"/><circle cx="204.7" cy="541.0" r="3.75"/><circle cx="172.9" cy="551.3" r="3.75"/><circle cx="243.1" cy="550.9" r="3.75"/><circle cx="208.5" cy="536.0" r="3.75"/><circle cx="154.5" cy="553.2" r="3.75"/><circle cx="240.9" cy="546.9" r="3.75"/><circle cx="206.3" cy="541.6" r="3.75"/><circle cx="195.5" cy="543.8" r="3.75"/><circle cx="224.7" cy="542.6" r="3.75"/><circle cx="170.2" cy="553.3" r="3.75"/><circle cx="194.7" cy="542.9" r="3.75"/><circle cx="173.6" cy="544.0" r="3.75"/><circle cx="227.9" cy="552.3" r="3.75"/><circle cx="226.5" cy="553.1" r="3.75"/><circle cx="176.0" cy="541.7" r="3.75"/><circle cx="179.6" cy="550.4" r="3.75"/><circle cx="199.7" cy="549.6" r="3.75"/><circle cx="181.4" cy="551.6" r="3.75"/><circle cx="194.7" cy="542.5" r="3.75"/><circle cx="160.0" cy="543.7" r="3.75"/><circle cx="158.6" cy="547.8" r="3.75"/><circle cx="218.5" cy="545.4" r="3.75"/><circle cx="203.3" cy="537.9" r="3.75"/><circle cx="232.8" cy="543.9" r="3.75"/><circle cx="178.9" cy="546.4" r="3.75"/><circle cx="205.3" cy="545.5" r="3.75"/><circle cx="170.5" cy="540.1" r="3.75"/><circle cx="243.8" cy="549.3" r="3.75"/><circle cx="223.2" cy="551.0" r="3.75"/><circle cx="176.7" cy="543.4" r="3.75"/><circle cx="174.5" cy="541.0" r="3.75"/><circle cx="214.8" cy="540.6" r="3.75"/><circle cx="183.0" cy="537.1" r="3.75"/><circle cx="208.4" cy="539.2" r="3.75"/><circle cx="202.8" cy="540.2" r="3.75"/><circle cx="215.5" cy="548.0" r="3.75"/><circle cx="167.6" cy="545.1" r="3.75"/><circle cx="166.7" cy="537.9" r="3.75"/><circle cx="253.2" cy="546.4" r="3.75"/><circle cx="206.0" cy="543.6" r="3.75"/><circle cx="246.9" cy="553.8" r="3.75"/><circle cx="211.6" cy="537.7" r="3.75"/><circle cx="198.9" cy="546.3" r="3.75"/><circle cx="159.1" cy="537.6" r="3.75"/><circle cx="160.6" cy="549.4" r="3.75"/><circle cx="231.1" cy="547.3" r="3.75"/><circle cx="157.1" cy="539.9" r="3.75"/><circle cx="173.4" cy="541.6" r="3.75"/><circle cx="229.6" cy="550.2" r="3.75"/><circle cx="212.3" cy="542.5" r="3.75"/><circle cx="159.2" cy="538.9" r="3.75"/><circle cx="241.2" cy="545.5" r="3.75"/><circle cx="166.9" cy="551.1" r="3.75"/><circle cx="160.5" cy="544.0" r="3.75"/><circle cx="248.7" cy="550.0" r="3.75"/><circle cx="229.1" cy="541.3" r="3.75"/><circle cx="173.6" cy="539.3" r="3.75"/><circle cx="218.4" cy="547.7" r="3.75"/><circle cx="248.2" cy="549.8" r="3.75"/><circle cx="173.3" cy="541.2" r="3.75"/><circle cx="220.3" cy="538.0" r="3.75"/><circle cx="220.7" cy="537.9" r="3.75"/><circle cx="181.9" cy="546.6" r="3.75"/><circle cx="180.3" cy="541.0" r="3.75"/><circle cx="211.9" cy="551.5" r="3.75"/><circle cx="218.6" cy="549.1" r="3.75"/><circle cx="209.3" cy="551.7" r="3.75"/><circle cx="169.5" cy="540.8" r="3.75"/><circle cx="238.6" cy="552.7" r="3.75"/><circle cx="175.0" cy="551.1" r="3.75"/><circle cx="170.1" cy="546.0" r="3.75"/><circle cx="226.9" cy="552.8" r="3.75"/><circle cx="159.9" cy="542.0" r="3.75"/><circle cx="226.1" cy="537.1" r="3.75"/><circle cx="153.6" cy="540.9" r="3.75"/><circle cx="202.9" cy="539.2" r="3.75"/><circle cx="176.5" cy="542.9" r="3.75"/><circle cx="243.3" cy="551.7" r="3.75"/><circle cx="244.0" cy="551.2" r="3.75"/><circle cx="194.1" cy="545.4" r="3.75"/><circle cx="165.2" cy="544.8" r="3.75"/><circle cx="159.9" cy="542.8" r="3.75"/><circle cx="180.2" cy="539.7" r="3.75"/><circle cx="189.9" cy="546.9" r="3.75"/><circle cx="232.3" cy="551.9" r="3.75"/><circle cx="250.5" cy="538.9" r="3.75"/><circle cx="199.0" cy="541.2" r="3.75"/><circle cx="183.2" cy="551.1" r="3.75"/><circle cx="224.6" cy="545.6" r="3.75"/><circle cx="185.4" cy="538.9" r="3.75"/><circle cx="242.9" cy="545.2" r="3.75"/><circle cx="157.7" cy="545.9" r="3.75"/><circle cx="153.5" cy="543.9" r="3.75"/><circle cx="245.2" cy="541.8" r="3.75"/><circle cx="174.0" cy="548.8" r="3.75"/><circle cx="221.6" cy="537.8" r="3.75"/><circle cx="240.9" cy="539.5" r="3.75"/><circle cx="154.8" cy="539.2" r="3.75"/><circle cx="236.5" cy="548.1" r="3.75"/><circle cx="176.8" cy="540.5" r="3.75"/><circle cx="218.3" cy="549.0" r="3.75"/><circle cx="169.1" cy="552.9" r="3.75"/><circle cx="195.0" cy="538.2" r="3.75"/><circle cx="192.1" cy="546.1" r="3.75"/><circle cx="237.2" cy="539.2" r="3.75"/><circle cx="197.4" cy="552.3" r="3.75"/><circle cx="230.6" cy="548.6" r="3.75"/><circle cx="172.4" cy="537.6" r="3.75"/><circle cx="217.2" cy="548.6" r="3.75"/><circle cx="180.7" cy="541.0" r="3.75"/><circle cx="233.2" cy="546.8" r="3.75"/><circle cx="189.4" cy="541.3" r="3.75"/><circle cx="168.6" cy="547.1" r="3.75"/><circle cx="168.6" cy="544.0" r="3.75"/><circle cx="239.0" cy="545.2" r="3.75"/><circle cx="187.2" cy="540.6" r="3.75"/><circle cx="237.5" cy="538.1" r="3.75"/><circle cx="211.5" cy="553.0" r="3.75"/><circle cx="233.3" cy="546.1" r="3.75"/><circle cx="194.8" cy="545.0" r="3.75"/><circle cx="155.9" cy="542.6" r="3.75"/><circle cx="250.0" cy="552.3" r="3.75"/><circle cx="235.5" cy="539.5" r="3.75"/><circle cx="207.3" cy="544.5" r="3.75"/><circle cx="231.9" cy="553.6" r="3.75"/><circle cx="187.9" cy="538.2" r="3.75"/><circle cx="170.0" cy="546.5" r="3.75"/><circle cx="168.6" cy="546.0" r="3.75"/><circle cx="181.5" cy="542.9" r="3.75"/><circle cx="176.5" cy="544.8" r="3.75"/><circle cx="229.0" cy="546.3" r="3.75"/><circle cx="205.1" cy="544.1" r="3.75"/><circle cx="190.3" cy="552.9" r="3.75"/><circle cx="226.7" cy="551.3" r="3.75"/><circle cx="198.0" cy="552.2" r="3.75"/><circle cx="182.8" cy="542.3" r="3.75"/><circle cx="219.0" cy="548.2" r="3.75"/><circle cx="195.7" cy="545.8" r="3.75"/><circle cx="198.3" cy="551.0" r="3.75"/><circle cx="229.2" cy="541.5" r="3.75"/><circle cx="165.5" cy="549.2" r="3.75"/><circle cx="192.9" cy="545.2" r="3.75"/><circle cx="211.6" cy="542.9" r="3.75"/><circle cx="245.7" cy="544.8" r="3.75"/><circle cx="177.8" cy="538.8" r="3.75"/><circle cx="213.0" cy="548.1" r="3.75"/><circle cx="202.6" cy="542.4" r="3.75"/><circle cx="167.6" cy="551.1" r="3.75"/><circle cx="235.1" cy="547.9" r="3.75"/><circle cx="221.6" cy="546.8" r="3.75"/><circle cx="173.3" cy="537.9" r="3.75"/><circle cx="246.2" cy="539.9" r="3.75"/><circle cx="195.3" cy="549.3" r="3.75"/><circle cx="207.2" cy="547.4" r="3.75"/><circle cx="238.4" cy="548.6" r="3.75"/><circle cx="172.1" cy="539.7" r="3.75"/><circle cx="201.0" cy="538.5" r="3.75"/><circle cx="208.5" cy="542.1" r="3.75"/><circle cx="169.3" cy="537.2" r="3.75"/><circle cx="167.4" cy="547.7" r="3.75"/><circle cx="206.7" cy="537.9" r="3.75"/><circle cx="222.5" cy="547.8" r="3.75"/><circle cx="194.8" cy="540.8" r="3.75"/><circle cx="179.5" cy="542.3" r="3.75"/><circle cx="207.0" cy="539.2" r="3.75"/><circle cx="240.7" cy="541.6" r="3.75"/><circle cx="175.2" cy="538.6" r="3.75"/><circle cx="161.2" cy="549.7" r="3.75"/><circle cx="165.2" cy="542.8" r="3.75"/><circle cx="247.9" cy="543.1" r="3.75"/><circle cx="186.5" cy="553.0" r="3.75"/><circle cx="199.8" cy="543.7" r="3.75"/><circle cx="214.8" cy="543.9" r="3.75"/><circle cx="216.3" cy="540.6" r="3.75"/><circle cx="218.4" cy="547.6" r="3.75"/><circle cx="245.2" cy="545.1" r="3.75"/><circle cx="218.7" cy="543.4" r="3.75"/><circle cx="153.3" cy="549.3" r="3.75"/><circle cx="228.8" cy="550.9" r="3.75"/><circle cx="219.4" cy="548.2" r="3.75"/><circle cx="184.4" cy="551.2" r="3.75"/><circle cx="184.0" cy="542.1" r="3.75"/><circle cx="240.8" cy="545.4" r="3.75"/><circle cx="238.3" cy="544.8" r="3.75"/><circle cx="146.3" cy="538.3" r="3.75"/><circle cx="161.0" cy="545.3" r="3.75"/><circle cx="167.9" cy="551.0" r="3.75"/><circle cx="202.1" cy="553.0" r="3.75"/><circle cx="246.9" cy="548.8" r="3.75"/><circle cx="209.1" cy="536.2" r="3.75"/><circle cx="202.0" cy="538.6" r="3.75"/><circle cx="203.4" cy="546.5" r="3.75"/><circle cx="153.7" cy="547.9" r="3.75"/><circle cx="219.8" cy="537.6" r="3.75"/><circle cx="244.6" cy="539.6" r="3.75"/><circle cx="223.5" cy="542.6" r="3.75"/><circle cx="244.7" cy="545.2" r="3.75"/><circle cx="198.2" cy="541.0" r="3.75"/><circle cx="164.6" cy="543.3" r="3.75"/><circle cx="229.1" cy="543.9" r="3.75"/><circle cx="221.1" cy="547.3" r="3.75"/><circle cx="217.9" cy="544.5" r="3.75"/><circle cx="157.6" cy="548.9" r="3.75"/><circle cx="167.6" cy="544.6" r="3.75"/><circle cx="210.1" cy="550.9" r="3.75"/><circle cx="175.1" cy="545.8" r="3.75"/><circle cx="189.0" cy="539.4" r="3.75"/><circle cx="185.2" cy="538.0" r="3.75"/><circle cx="217.7" cy="546.7" r="3.75"/><circle cx="194.9" cy="552.9" r="3.75"/><circle cx="210.3" cy="552.7" r="3.75"/><circle cx="198.6" cy="544.6" r="3.75"/><circle cx="219.3" cy="548.8" r="3.75"/><circle cx="240.4" cy="549.5" r="3.75"/><circle cx="192.4" cy="550.5" r="3.75"/><circle cx="226.2" cy="538.0" r="3.75"/><circle cx="194.3" cy="535.9" r="3.75"/><circle cx="193.3" cy="553.2" r="3.75"/><circle cx="160.8" cy="552.8" r="3.75"/><circle cx="228.7" cy="543.9" r="3.75"/><circle cx="203.3" cy="548.5" r="3.75"/><circle cx="211.5" cy="548.8" r="3.75"/><circle cx="188.6" cy="538.1" r="3.75"/><circle cx="189.1" cy="541.6" r="3.75"/><circle cx="168.9" cy="543.3" r="3.75"/><circle cx="208.1" cy="545.1" r="3.75"/><circle cx="163.3" cy="546.9" r="3.75"/><circle cx="243.1" cy="543.2" r="3.75"/><circle cx="179.6" cy="545.9" r="3.75"/><circle cx="195.1" cy="546.6" r="3.75"/><circle cx="162.0" cy="543.7" r="3.75"/><circle cx="184.1" cy="544.1" r="3.75"/><circle cx="243.8" cy="538.5" r="3.75"/><circle cx="239.8" cy="543.0" r="3.75"/><circle cx="224.6" cy="547.1" r="3.75"/><circle cx="157.3" cy="553.2" r="3.75"/><circle cx="232.0" cy="550.1" r="3.75"/><circle cx="221.2" cy="548.2" r="3.75"/><circle cx="201.7" cy="552.2" r="3.75"/><circle cx="185.8" cy="547.7" r="3.75"/><circle cx="172.4" cy="541.8" r="3.75"/><circle cx="188.7" cy="547.1" r="3.75"/><circle cx="225.7" cy="539.0" r="3.75"/><circle cx="244.6" cy="542.8" r="3.75"/><circle cx="178.1" cy="553.2" r="3.75"/><circle cx="172.8" cy="553.9" r="3.75"/><circle cx="254.9" cy="548.8" r="3.75"/><circle cx="179.2" cy="553.3" r="3.75"/><circle cx="185.3" cy="539.9" r="3.75"/><circle cx="208.3" cy="544.8" r="3.75"/><circle cx="247.2" cy="553.2" r="3.75"/><circle cx="187.6" cy="538.2" r="3.75"/><circle cx="217.4" cy="542.7" r="3.75"/><circle cx="241.2" cy="548.7" r="3.75"/><circle cx="194.2" cy="540.0" r="3.75"/><circle cx="173.5" cy="553.1" r="3.75"/><circle cx="207.4" cy="540.7" r="3.75"/><circle cx="187.0" cy="546.6" r="3.75"/><circle cx="182.5" cy="542.1" r="3.75"/><circle cx="175.6" cy="539.0" r="3.75"/><circle cx="240.1" cy="550.3" r="3.75"/><circle cx="210.1" cy="537.3" r="3.75"/><circle cx="189.6" cy="544.8" r="3.75"/><circle cx="211.2" cy="540.8" r="3.75"/><circle cx="201.6" cy="544.5" r="3.75"/><circle cx="235.7" cy="550.9" r="3.75"/><circle cx="186.6" cy="551.0" r="3.75"/><circle cx="164.5" cy="542.9" r="3.75"/><circle cx="227.1" cy="550.7" r="3.75"/><circle cx="153.7" cy="544.3" r="3.75"/><circle cx="223.7" cy="544.1" r="3.75"/><circle cx="186.3" cy="539.1" r="3.75"/><circle cx="249.4" cy="554.0" r="3.75"/><circle cx="205.2" cy="541.2" r="3.75"/><circle cx="218.7" cy="552.0" r="3.75"/><circle cx="214.8" cy="539.0" r="3.75"/><circle cx="180.0" cy="539.0" r="3.75"/><circle cx="186.9" cy="549.0" r="3.75"/><circle cx="242.7" cy="551.6" r="3.75"/><circle cx="234.9" cy="545.1" r="3.75"/><circle cx="226.5" cy="542.0" r="3.75"/><circle cx="202.8" cy="546.8" r="3.75"/><circle cx="216.3" cy="544.2" r="3.75"/><circle cx="224.2" cy="552.7" r="3.75"/><circle cx="177.9" cy="551.6" r="3.75"/><circle cx="192.1" cy="543.8" r="3.75"/><circle cx="155.8" cy="548.9" r="3.75"/><circle cx="225.7" cy="545.6" r="3.75"/><circle cx="177.2" cy="553.0" r="3.75"/><circle cx="202.5" cy="545.2" r="3.75"/><circle cx="195.4" cy="548.2" r="3.75"/><circle cx="236.8" cy="537.9" r="3.75"/><circle cx="207.8" cy="546.5" r="3.75"/><circle cx="227.2" cy="546.4" r="3.75"/><circle cx="200.8" cy="536.6" r="3.75"/><circle cx="225.2" cy="543.3" r="3.75"/><circle cx="205.6" cy="549.5" r="3.75"/><circle cx="209.9" cy="553.4" r="3.75"/><circle cx="185.8" cy="551.1" r="3.75"/><circle cx="174.2" cy="546.7" r="3.75"/><circle cx="167.2" cy="542.4" r="3.75"/><circle cx="204.1" cy="549.4" r="3.75"/><circle cx="142.5" cy="552.3" r="3.75"/><circle cx="225.8" cy="552.8" r="3.75"/><circle cx="252.6" cy="542.7" r="3.75"/><circle cx="211.4" cy="547.9" r="3.75"/><circle cx="218.7" cy="539.2" r="3.75"/><circle cx="177.2" cy="548.4" r="3.75"/><circle cx="222.1" cy="545.1" r="3.75"/><circle cx="230.0" cy="543.3" r="3.75"/><circle cx="237.9" cy="544.1" r="3.75"/><circle cx="250.8" cy="552.2" r="3.75"/><circle cx="178.3" cy="545.1" r="3.75"/><circle cx="227.1" cy="548.1" r="3.75"/><circle cx="198.5" cy="544.1" r="3.75"/><circle cx="158.0" cy="549.1" r="3.75"/><circle cx="222.9" cy="539.2" r="3.75"/><circle cx="211.1" cy="547.0" r="3.75"/><circle cx="238.8" cy="541.9" r="3.75"/><circle cx="164.6" cy="545.9" r="3.75"/><circle cx="161.6" cy="539.7" r="3.75"/><circle cx="231.6" cy="548.6" r="3.75"/><circle cx="249.4" cy="548.5" r="3.75"/><circle cx="196.2" cy="544.5" r="3.75"/><circle cx="230.3" cy="552.7" r="3.75"/><circle cx="218.4" cy="553.6" r="3.75"/><circle cx="201.1" cy="530.9" r="3.75"/><circle cx="185.9" cy="533.2" r="3.75"/><circle cx="189.0" cy="519.8" r="3.75"/><circle cx="209.6" cy="521.0" r="3.75"/><circle cx="192.1" cy="528.3" r="3.75"/><circle cx="186.0" cy="526.1" r="3.75"/><circle cx="190.7" cy="527.6" r="3.75"/><circle cx="204.0" cy="536.0" r="3.75"/><circle cx="190.9" cy="522.7" r="3.75"/><circle cx="186.2" cy="521.4" r="3.75"/><circle cx="186.1" cy="534.8" r="3.75"/><circle cx="203.8" cy="537.1" r="3.75"/><circle cx="191.1" cy="532.3" r="3.75"/><circle cx="209.5" cy="536.7" r="3.75"/><circle cx="190.2" cy="534.9" r="3.75"/><circle cx="190.6" cy="533.2" r="3.75"/><circle cx="201.6" cy="536.2" r="3.75"/><circle cx="206.4" cy="525.6" r="3.75"/><circle cx="187.9" cy="528.5" r="3.75"/><circle cx="206.6" cy="537.1" r="3.75"/><circle cx="204.0" cy="534.5" r="3.75"/><circle cx="184.5" cy="531.3" r="3.75"/><circle cx="207.3" cy="536.8" r="3.75"/><circle cx="188.7" cy="537.5" r="3.75"/><circle cx="209.4" cy="532.2" r="3.75"/><circle cx="209.3" cy="535.8" r="3.75"/><circle cx="210.0" cy="535.9" r="3.75"/><circle cx="203.2" cy="527.6" r="3.75"/><circle cx="202.8" cy="535.0" r="3.75"/><circle cx="188.8" cy="526.2" r="3.75"/><circle cx="209.4" cy="531.7" r="3.75"/><circle cx="204.9" cy="537.2" r="3.75"/><circle cx="204.2" cy="533.6" r="3.75"/><circle cx="191.0" cy="524.4" r="3.75"/><circle cx="206.5" cy="536.6" r="3.75"/><circle cx="204.6" cy="535.5" r="3.75"/><circle cx="204.5" cy="535.5" r="3.75"/><circle cx="186.3" cy="522.0" r="3.75"/><circle cx="186.1" cy="536.6" r="3.75"/><circle cx="192.6" cy="535.5" r="3.75"/><circle cx="186.7" cy="524.9" r="3.75"/><circle cx="209.5" cy="530.1" r="3.75"/><circle cx="204.1" cy="536.4" r="3.75"/><circle cx="191.5" cy="529.9" r="3.75"/><circle cx="202.8" cy="528.7" r="3.75"/><circle cx="187.6" cy="523.6" r="3.75"/><circle cx="188.7" cy="535.9" r="3.75"/><circle cx="184.4" cy="533.8" r="3.75"/><circle cx="208.5" cy="533.8" r="3.75"/><circle cx="187.1" cy="525.4" r="3.75"/><circle cx="207.5" cy="530.7" r="3.75"/><circle cx="201.4" cy="529.4" r="3.75"/><circle cx="184.3" cy="520.6" r="3.75"/><circle cx="202.4" cy="531.8" r="3.75"/><circle cx="187.5" cy="532.2" r="3.75"/><circle cx="202.6" cy="537.3" r="3.75"/><circle cx="193.5" cy="531.9" r="3.75"/><circle cx="202.1" cy="527.2" r="3.75"/><circle cx="208.5" cy="536.2" r="3.75"/><circle cx="189.5" cy="534.6" r="3.75"/><circle cx="184.4" cy="529.3" r="3.75"/><circle cx="202.9" cy="537.5" r="3.75"/><circle cx="205.2" cy="527.6" r="3.75"/><circle cx="202.9" cy="537.1" r="3.75"/><circle cx="208.8" cy="531.2" r="3.75"/><circle cx="207.9" cy="532.5" r="3.75"/><circle cx="208.8" cy="532.6" r="3.75"/><circle cx="186.6" cy="534.0" r="3.75"/><circle cx="188.7" cy="535.6" r="3.75"/><circle cx="184.3" cy="536.6" r="3.75"/><circle cx="188.7" cy="512.8" r="3.75"/><circle cx="206.3" cy="524.7" r="3.75"/><circle cx="189.7" cy="534.6" r="3.75"/><circle cx="207.6" cy="520.9" r="3.75"/><circle cx="208.0" cy="513.4" r="3.75"/><circle cx="189.2" cy="537.8" r="3.75"/><circle cx="200.8" cy="531.7" r="3.75"/><circle cx="205.9" cy="532.6" r="3.75"/><circle cx="209.7" cy="534.6" r="3.75"/><circle cx="187.4" cy="525.8" r="3.75"/><circle cx="185.6" cy="522.6" r="3.75"/><circle cx="187.7" cy="523.5" r="3.75"/><circle cx="189.0" cy="524.6" r="3.75"/><circle cx="209.4" cy="526.7" r="3.75"/><circle cx="205.4" cy="537.4" r="3.75"/><circle cx="185.6" cy="518.0" r="3.75"/><circle cx="207.2" cy="523.4" r="3.75"/><circle cx="183.7" cy="531.6" r="3.75"/><circle cx="184.8" cy="535.5" r="3.75"/><circle cx="201.4" cy="531.3" r="3.75"/><circle cx="203.9" cy="530.2" r="3.75"/><circle cx="209.5" cy="537.7" r="3.75"/><circle cx="191.9" cy="527.8" r="3.75"/><circle cx="202.0" cy="537.5" r="3.75"/><circle cx="184.9" cy="537.0" r="3.75"/><circle cx="187.2" cy="537.5" r="3.75"/><circle cx="186.2" cy="528.4" r="3.75"/><circle cx="206.7" cy="534.7" r="3.75"/><circle cx="206.1" cy="524.8" r="3.75"/><circle cx="205.9" cy="526.9" r="3.75"/><circle cx="200.6" cy="529.1" r="3.75"/><circle cx="202.3" cy="533.6" r="3.75"/><circle cx="204.8" cy="533.8" r="3.75"/><circle cx="187.3" cy="533.2" r="3.75"/><circle cx="208.9" cy="514.0" r="3.75"/><circle cx="203.6" cy="531.0" r="3.75"/><circle cx="192.4" cy="537.7" r="3.75"/><circle cx="204.2" cy="536.4" r="3.75"/><circle cx="192.6" cy="536.9" r="3.75"/><circle cx="210.0" cy="533.9" r="3.75"/><circle cx="193.3" cy="537.6" r="3.75"/><circle cx="207.8" cy="531.9" r="3.75"/><circle cx="189.7" cy="532.9" r="3.75"/><circle cx="192.0" cy="533.0" r="3.75"/><circle cx="200.4" cy="537.6" r="3.75"/><circle cx="204.2" cy="518.5" r="3.75"/><circle cx="186.1" cy="528.9" r="3.75"/><circle cx="201.2" cy="532.4" r="3.75"/><circle cx="186.9" cy="531.7" r="3.75"/><circle cx="203.9" cy="534.4" r="3.75"/><circle cx="206.2" cy="526.5" r="3.75"/><circle cx="192.2" cy="533.0" r="3.75"/><circle cx="209.5" cy="523.4" r="3.75"/><circle cx="185.5" cy="534.5" r="3.75"/><circle cx="201.3" cy="533.6" r="3.75"/><circle cx="206.5" cy="535.2" r="3.75"/><circle cx="209.6" cy="537.2" r="3.75"/><circle cx="184.9" cy="534.2" r="3.75"/><circle cx="187.0" cy="537.8" r="3.75"/><circle cx="207.0" cy="533.8" r="3.75"/><circle cx="193.1" cy="535.0" r="3.75"/><circle cx="205.3" cy="529.8" r="3.75"/><circle cx="184.4" cy="533.6" r="3.75"/><circle cx="185.8" cy="524.3" r="3.75"/><circle cx="202.4" cy="536.0" r="3.75"/><circle cx="186.1" cy="525.0" r="3.75"/><circle cx="206.5" cy="537.4" r="3.75"/><circle cx="191.4" cy="535.7" r="3.75"/><circle cx="203.4" cy="514.8" r="3.75"/><circle cx="200.7" cy="535.1" r="3.75"/><circle cx="210.2" cy="535.7" r="3.75"/><circle cx="187.3" cy="525.1" r="3.75"/><circle cx="186.9" cy="535.7" r="3.75"/><circle cx="193.3" cy="533.4" r="3.75"/><circle cx="210.0" cy="535.9" r="3.75"/><circle cx="206.0" cy="532.6" r="3.75"/><circle cx="186.7" cy="537.2" r="3.75"/><circle cx="183.6" cy="535.6" r="3.75"/><circle cx="190.1" cy="534.1" r="3.75"/><circle cx="208.7" cy="533.4" r="3.75"/><circle cx="203.5" cy="528.9" r="3.75"/><circle cx="191.7" cy="537.4" r="3.75"/><circle cx="202.6" cy="530.8" r="3.75"/><circle cx="206.8" cy="523.1" r="3.75"/><circle cx="187.8" cy="534.6" r="3.75"/><circle cx="186.8" cy="528.4" r="3.75"/><circle cx="191.1" cy="536.9" r="3.75"/><circle cx="190.8" cy="517.1" r="3.75"/><circle cx="201.5" cy="536.7" r="3.75"/><circle cx="207.0" cy="537.2" r="3.75"/><circle cx="187.2" cy="536.8" r="3.75"/><circle cx="203.7" cy="530.8" r="3.75"/><circle cx="205.0" cy="531.8" r="3.75"/><circle cx="188.1" cy="532.7" r="3.75"/><circle cx="188.0" cy="535.9" r="3.75"/><circle cx="188.6" cy="534.2" r="3.75"/><circle cx="185.6" cy="529.6" r="3.75"/><circle cx="188.2" cy="536.3" r="3.75"/><circle cx="186.4" cy="520.4" r="3.75"/><circle cx="210.0" cy="515.3" r="3.75"/><circle cx="206.8" cy="524.6" r="3.75"/><circle cx="189.7" cy="522.4" r="3.75"/><circle cx="188.2" cy="537.6" r="3.75"/><circle cx="191.7" cy="537.4" r="3.75"/><circle cx="189.5" cy="537.5" r="3.75"/><circle cx="183.9" cy="529.5" r="3.75"/><circle cx="188.8" cy="534.7" r="3.75"/><circle cx="203.9" cy="517.1" r="3.75"/><circle cx="186.3" cy="534.3" r="3.75"/><circle cx="210.0" cy="537.4" r="3.75"/><circle cx="205.2" cy="533.3" r="3.75"/><circle cx="183.7" cy="530.7" r="3.75"/><circle cx="192.8" cy="526.7" r="3.75"/><circle cx="206.3" cy="523.1" r="3.75"/><circle cx="209.1" cy="536.6" r="3.75"/><circle cx="185.2" cy="532.6" r="3.75"/><circle cx="205.0" cy="535.5" r="3.75"/><circle cx="193.3" cy="537.3" r="3.75"/><circle cx="205.9" cy="528.7" r="3.75"/><circle cx="193.6" cy="533.7" r="3.75"/><circle cx="204.6" cy="528.2" r="3.75"/><circle cx="201.6" cy="536.9" r="3.75"/><circle cx="184.3" cy="534.6" r="3.75"/><circle cx="192.8" cy="534.0" r="3.75"/><circle cx="193.3" cy="536.1" r="3.75"/><circle cx="209.0" cy="533.8" r="3.75"/><circle cx="188.6" cy="533.5" r="3.75"/><circle cx="209.9" cy="521.0" r="3.75"/><circle cx="209.1" cy="519.3" r="3.75"/><circle cx="183.7" cy="521.3" r="3.75"/><circle cx="210.1" cy="530.3" r="3.75"/><circle cx="206.6" cy="532.8" r="3.75"/><circle cx="202.1" cy="524.9" r="3.75"/><circle cx="186.7" cy="530.6" r="3.75"/><circle cx="183.9" cy="526.8" r="3.75"/><circle cx="185.0" cy="536.0" r="3.75"/><circle cx="204.4" cy="524.7" r="3.75"/><circle cx="205.2" cy="534.7" r="3.75"/><circle cx="192.4" cy="537.2" r="3.75"/><circle cx="191.8" cy="527.6" r="3.75"/><circle cx="203.5" cy="532.8" r="3.75"/><circle cx="210.0" cy="514.0" r="3.75"/><circle cx="203.9" cy="520.3" r="3.75"/><circle cx="206.3" cy="534.3" r="3.75"/><circle cx="192.3" cy="531.8" r="3.75"/><circle cx="190.2" cy="526.5" r="3.75"/><circle cx="185.7" cy="535.1" r="3.75"/><circle cx="204.8" cy="534.9" r="3.75"/><circle cx="203.8" cy="533.8" r="3.75"/><circle cx="186.8" cy="537.8" r="3.75"/><circle cx="208.7" cy="536.5" r="3.75"/><circle cx="206.2" cy="525.0" r="3.75"/><circle cx="208.5" cy="536.4" r="3.75"/><circle cx="200.9" cy="534.7" r="3.75"/><circle cx="186.2" cy="534.1" r="3.75"/><circle cx="205.5" cy="534.8" r="3.75"/><circle cx="185.9" cy="533.1" r="3.75"/><circle cx="188.5" cy="521.4" r="3.75"/><circle cx="200.7" cy="536.9" r="3.75"/><circle cx="184.9" cy="533.2" r="3.75"/><circle cx="187.6" cy="518.3" r="3.75"/><circle cx="190.3" cy="537.7" r="3.75"/><circle cx="184.0" cy="515.5" r="3.75"/><circle cx="187.2" cy="533.4" r="3.75"/><circle cx="203.6" cy="534.4" r="3.75"/><circle cx="207.9" cy="528.3" r="3.75"/><circle cx="191.7" cy="524.7" r="3.75"/><circle cx="185.9" cy="535.6" r="3.75"/><circle cx="205.3" cy="532.3" r="3.75"/><circle cx="202.5" cy="533.8" r="3.75"/><circle cx="210.0" cy="527.4" r="3.75"/><circle cx="207.8" cy="537.7" r="3.75"/><circle cx="187.6" cy="518.6" r="3.75"/><circle cx="192.0" cy="531.4" r="3.75"/><circle cx="203.8" cy="537.6" r="3.75"/><circle cx="206.8" cy="536.9" r="3.75"/><circle cx="203.4" cy="524.4" r="3.75"/><circle cx="183.8" cy="530.0" r="3.75"/><circle cx="184.1" cy="520.4" r="3.75"/><circle cx="190.8" cy="522.5" r="3.75"/><circle cx="188.4" cy="536.6" r="3.75"/><circle cx="188.3" cy="537.5" r="3.75"/><circle cx="205.6" cy="526.2" r="3.75"/><circle cx="205.4" cy="532.4" r="3.75"/><circle cx="187.6" cy="537.6" r="3.75"/><circle cx="205.0" cy="532.4" r="3.75"/><circle cx="187.0" cy="535.0" r="3.75"/><circle cx="184.4" cy="524.4" r="3.75"/><circle cx="208.8" cy="513.1" r="3.75"/><circle cx="185.7" cy="536.9" r="3.75"/><circle cx="61.2" cy="540.4" r="3.75"/><circle cx="82.8" cy="549.2" r="3.75"/><circle cx="89.2" cy="549.2" r="3.75"/><circle cx="93.6" cy="549.9" r="3.75"/><circle cx="95.7" cy="545.4" r="3.75"/><circle cx="105.4" cy="549.2" r="3.75"/><circle cx="107.6" cy="545.4" r="3.75"/><circle cx="113.0" cy="550.5" r="3.75"/><circle cx="121.6" cy="548.6" r="3.75"/><circle cx="128.0" cy="539.1" r="3.75"/><circle cx="133.4" cy="544.2" r="3.75"/><circle cx="137.7" cy="549.2" r="3.75"/><circle cx="147.4" cy="551.7" r="3.75"/><circle cx="269.2" cy="549.2" r="3.75"/><circle cx="274.6" cy="549.2" r="3.75"/><circle cx="277.8" cy="549.9" r="3.75"/><circle cx="282.1" cy="549.9" r="3.75"/><circle cx="283.2" cy="542.9" r="3.75"/><circle cx="291.8" cy="549.2" r="3.75"/><circle cx="294.0" cy="543.5" r="3.75"/><circle cx="305.8" cy="548.0" r="3.75"/><circle cx="259.5" cy="549.2" r="3.75"/><circle cx="263.8" cy="545.4" r="3.75"/><circle cx="255.2" cy="546.7" r="3.75"/></g>
<g fill="#0000ff" fill-opacity="0.56"><circle cx="149.3" cy="535.8" r="3.75"/><circle cx="175.6" cy="535.0" r="3.75"/><circle cx="178.6" cy="536.0" r="3.75"/><circle cx="158.6" cy="535.5" r="3.75"/><circle cx="184.8" cy="533.5" r="3.75"/><circle cx="179.1" cy="535.0" r="3.75"/><circle cx="184.4" cy="534.5" r="3.75"/><circle cx="178.0" cy="532.8" r="3.75"/><circle cx="158.7" cy="534.3" r="3.75"/><circle cx="182.3" cy="535.4" r="3.75"/><circle cx="163.0" cy="521.6" r="3.75"/><circle cx="178.0" cy="522.3" r="3.75"/><circle cx="178.0" cy="526.8" r="3.75"/><circle cx="184.3" cy="514.2" r="3.75"/><circle cx="184.4" cy="533.7" r="3.75"/><circle cx="184.3" cy="534.3" r="3.75"/><circle cx="182.3" cy="525.0" r="3.75"/><circle cx="176.3" cy="534.3" r="3.75"/><circle cx="178.6" cy="533.2" r="3.75"/><circle cx="181.5" cy="521.9" r="3.75"/><circle cx="176.1" cy="534.2" r="3.75"/><circle cx="177.5" cy="536.5" r="3.75"/><circle cx="173.6" cy="531.9" r="3.75"/><circle cx="173.5" cy="534.0" r="3.75"/><circle cx="164.2" cy="534.5" r="3.75"/><circle cx="173.7" cy="535.6" r="3.75"/><circle cx="184.5" cy="533.6" r="3.75"/><circle cx="170.4" cy="534.2" r="3.75"/><circle cx="184.7" cy="534.0" r="3.75"/><circle cx="183.6" cy="532.3" r="3.75"/><circle cx="156.5" cy="519.4" r="3.75"/><circle cx="183.1" cy="527.3" r="3.75"/><circle cx="178.5" cy="534.1" r="3.75"/><circle cx="171.6" cy="533.6" r="3.75"/><circle cx="180.6" cy="531.9" r="3.75"/><circle cx="179.9" cy="536.5" r="3.75"/><circle cx="180.2" cy="535.5" r="3.75"/><circle cx="177.9" cy="534.4" r="3.75"/><circle cx="169.8" cy="533.8" r="3.75"/><circle cx="166.0" cy="536.5" r="3.75"/><circle cx="180.0" cy="535.4" r="3.75"/><circle cx="169.9" cy="533.1" r="3.75"/><circle cx="156.1" cy="532.8" r="3.75"/><circle cx="151.7" cy="529.1" r="3.75"/><circle cx="162.5" cy="524.0" r="3.75"/><circle cx="169.0" cy="520.2" r="3.75"/><circle cx="175.4" cy="517.7" r="3.75"/><circle cx="179.8" cy="522.8" r="3.75"/><circle cx="181.9" cy="515.2" r="3.75"/><circle cx="158.2" cy="534.1" r="3.75"/><circle cx="164.7" cy="530.3" r="3.75"/><circle cx="171.1" cy="532.8" r="3.75"/><circle cx="177.6" cy="529.1" r="3.75"/><circle cx="184.1" cy="527.8" r="3.75"/><circle cx="145.3" cy="534.1" r="3.75"/><circle cx="166.8" cy="526.5" r="3.75"/><circle cx="180.8" cy="533.5" r="3.75"/><circle cx="173.3" cy="525.3" r="3.75"/></g>
<g fill="#ff0000" fill-opacity="0.56"><circle cx="218.3" cy="526.9" r="3.75"/><circle cx="215.9" cy="531.1" r="3.75"/><circle cx="209.5" cy="532.4" r="3.75"/><circle cx="212.1" cy="500.6" r="3.75"/><circle cx="224.8" cy="501.2" r="3.75"/><circle cx="228.5" cy="516.8" r="3.75"/><circle cx="223.4" cy="532.5" r="3.75"/><circle cx="209.6" cy="529.7" r="3.75"/><circle cx="208.9" cy="528.4" r="3.75"/><circle cx="214.0" cy="521.9" r="3.75"/><circle cx="210.3" cy="531.2" r="3.75"/><circle cx="209.0" cy="531.4" r="3.75"/><circle cx="214.1" cy="533.5" r="3.75"/><circle cx="228.7" cy="527.8" r="3.75"/><circle cx="224.5" cy="532.4" r="3.75"/><circle cx="213.0" cy="534.1" r="3.75"/><circle cx="213.4" cy="535.0" r="3.75"/><circle cx="211.4" cy="535.9" r="3.75"/><circle cx="210.4" cy="534.3" r="3.75"/><circle cx="214.9" cy="522.5" r="3.75"/><circle cx="214.3" cy="533.5" r="3.75"/><circle cx="215.5" cy="524.1" r="3.75"/><circle cx="209.1" cy="530.1" r="3.75"/><circle cx="211.8" cy="535.2" r="3.75"/><circle cx="210.2" cy="529.8" r="3.75"/><circle cx="209.3" cy="517.0" r="3.75"/><circle cx="210.4" cy="535.2" r="3.75"/><circle cx="215.0" cy="532.6" r="3.75"/><circle cx="209.7" cy="536.4" r="3.75"/><circle cx="211.4" cy="535.9" r="3.75"/><circle cx="210.3" cy="536.0" r="3.75"/><circle cx="217.2" cy="521.9" r="3.75"/><circle cx="214.1" cy="524.4" r="3.75"/><circle cx="209.2" cy="523.6" r="3.75"/><circle cx="220.3" cy="511.9" r="3.75"/><circle cx="216.0" cy="525.2" r="3.75"/><circle cx="209.1" cy="536.5" r="3.75"/><circle cx="219.9" cy="530.5" r="3.75"/><circle cx="211.5" cy="525.7" r="3.75"/><circle cx="211.0" cy="534.1" r="3.75"/><circle cx="223.4" cy="534.4" r="3.75"/><circle cx="209.3" cy="529.8" r="3.75"/><circle cx="208.9" cy="536.6" r="3.75"/><circle cx="219.2" cy="535.6" r="3.75"/><circle cx="216.2" cy="535.2" r="3.75"/><circle cx="216.2" cy="530.0" r="3.75"/><circle cx="210.2" cy="509.8" r="3.75"/><circle cx="209.0" cy="535.9" r="3.75"/><circle cx="209.5" cy="534.1" r="3.75"/><circle cx="216.6" cy="531.7" r="3.75"/><circle cx="209.9" cy="530.8" r="3.75"/><circle cx="208.9" cy="529.1" r="3.75"/><circle cx="211.3" cy="533.2" r="3.75"/><circle cx="229.6" cy="536.6" r="3.75"/><circle cx="212.3" cy="536.4" r="3.75"/><circle cx="211.7" cy="527.9" r="3.75"/><circle cx="215.4" cy="534.9" r="3.75"/><circle cx="217.6" cy="535.9" r="3.75"/><circle cx="213.5" cy="533.8" r="3.75"/><circle cx="213.5" cy="532.8" r="3.75"/><circle cx="209.3" cy="517.1" r="3.75"/><circle cx="233.8" cy="535.7" r="3.75"/><circle cx="212.1" cy="527.8" r="3.75"/><circle cx="216.4" cy="522.8" r="3.75"/><circle cx="220.7" cy="516.5" r="3.75"/><circle cx="225.0" cy="511.4" r="3.75"/><circle cx="229.3" cy="521.5" r="3.75"/><circle cx="214.2" cy="507.6" r="3.75"/><circle cx="218.6" cy="531.6" r="3.75"/><circle cx="227.2" cy="529.1" r="3.75"/><circle cx="233.6" cy="527.8" r="3.75"/><circle cx="209.9" cy="519.0" r="3.75"/><circle cx="222.9" cy="534.1" r="3.75"/><circle cx="244.4" cy="532.8" r="3.75"/><circle cx="237.9" cy="535.4" r="3.75"/><circle cx="263.8" cy="534.1" r="3.75"/><circle cx="211.0" cy="501.3" r="3.75"/><circle cx="213.2" cy="483.7" r="3.75"/><circle cx="217.5" cy="495.0" r="3.75"/><circle cx="231.5" cy="534.1" r="3.75"/><circle cx="253.0" cy="535.4" r="3.75"/><circle cx="215.3" cy="529.1" r="3.75"/><circle cx="221.8" cy="525.3" r="3.75"/><circle cx="226.1" cy="519.0" r="3.75"/></g>
</g>
<g fill="#666" fill-opacity="0.56"><circle cx="187.6" cy="475.6" r="3.75"/><circle cx="207.7" cy="497.0" r="3.75"/></g>
<g fill="#0000ff" fill-opacity="0.56"><circle cx="152.4" cy="352.5" r="3.75"/><circle cx="59.1" cy="497.0" r="3.75"/><circle cx="177.8" cy="461.8" r="3.75"/><circle cx="170.2" cy="479.0" r="3.75"/><circle cx="182.5" cy="477.0" r="3.75"/><circle cx="141.2" cy="492.4" r="3.75"/><circle cx="142.4" cy="505.4" r="3.75"/><circle cx="168.8" cy="491.7" r="3.75"/><circle cx="164.1" cy="499.5" r="3.75"/><circle cx="183.6" cy="493.6" r="3.75"/><circle cx="185.3" cy="505.9" r="3.75"/><circle cx="182.6" cy="477.3" r="3.75"/><circle cx="180.5" cy="483.0" r="3.75"/></g>
<g fill="#ff0000" fill-opacity="0.56"><circle cx="224.2" cy="410.9" r="3.75"/><circle cx="213.3" cy="446.7" r="3.75"/><circle cx="210.3" cy="459.3" r="3.75"/><circle cx="243.0" cy="468.5" r="3.75"/><circle cx="337.5" cy="476.6" r="3.75"/><circle cx="227.9" cy="499.6" r="3.75"/><circle cx="264.0" cy="514.7" r="3.75"/><circle cx="212.8" cy="484.0" r="3.75"/><circle cx="211.0" cy="496.2" r="3.75"/><circle cx="209.0" cy="470.0" r="3.75"/><circle cx="215.0" cy="505.0" r="3.75"/></g>
<line x1="34.80" y1="536.62" x2="358.00" y2="536.62" stroke="#ee2222" stroke-width="0.9" stroke-dasharray="2.6,1.8"/>
<line x1="186.50" y1="339.50" x2="186.50" y2="562.30" stroke="#ee2222" stroke-width="0.9" stroke-dasharray="2.6,1.8"/>
<line x1="207.40" y1="339.50" x2="207.40" y2="562.30" stroke="#ee2222" stroke-width="0.9" stroke-dasharray="2.6,1.8"/>
<line x1="146.00" y1="470.00" x2="170.20" y2="479.00" stroke="#333" stroke-width="0.6" />
<line x1="178.20" y1="470.00" x2="182.50" y2="477.00" stroke="#333" stroke-width="0.6" />
<line x1="180.00" y1="473.60" x2="187.60" y2="484.00" stroke="#333" stroke-width="0.6" />
<line x1="247.20" y1="475.60" x2="223.70" y2="485.70" stroke="#333" stroke-width="0.6" />
<line x1="219.00" y1="492.90" x2="214.40" y2="499.00" stroke="#333" stroke-width="0.6" />
<line x1="242.10" y1="506.00" x2="227.90" y2="499.60" stroke="#333" stroke-width="0.6" />
<line x1="248.90" y1="462.00" x2="243.00" y2="468.50" stroke="#333" stroke-width="0.6" />
<line x1="66.10" y1="492.00" x2="60.20" y2="496.30" stroke="#333" stroke-width="0.6" />
<line x1="162.00" y1="507.00" x2="142.40" y2="505.40" stroke="#333" stroke-width="0.6" />
<line x1="138.90" y1="502.00" x2="142.40" y2="505.40" stroke="#333" stroke-width="0.6" />
<line x1="327.40" y1="486.80" x2="335.00" y2="479.00" stroke="#333" stroke-width="0.6" />
<rect x="118.3" y="342.2" width="30.3" height="11.2" rx="1.5" fill="#fff" fill-opacity="0.95" stroke="#666" stroke-width="0.6"/>
<text x="133.45" y="350.40" font-size="7.4" text-anchor="middle" fill="#3a3a3a" font-weight="normal" font-style="italic" textLength="23.80" lengthAdjust="spacingAndGlyphs" >NPTX1</text>
<rect x="223.0" y="398.0" width="27.8" height="9.5" rx="1.5" fill="#fff" fill-opacity="0.95" stroke="#666" stroke-width="0.6"/>
<text x="236.90" y="405.35" font-size="7.4" text-anchor="middle" fill="#3a3a3a" font-weight="normal" font-style="italic" textLength="21.30" lengthAdjust="spacingAndGlyphs" >MYLIP</text>
<rect x="209.0" y="434.3" width="35.3" height="8.9" rx="1.5" fill="#fff" fill-opacity="0.95" stroke="#666" stroke-width="0.6"/>
<text x="226.65" y="441.35" font-size="7.4" text-anchor="middle" fill="#3a3a3a" font-weight="normal" font-style="italic" textLength="28.80" lengthAdjust="spacingAndGlyphs" >SREBF1</text>
<rect x="214.0" y="450.4" width="29.5" height="10.1" rx="1.5" fill="#fff" fill-opacity="0.95" stroke="#666" stroke-width="0.6"/>
<text x="228.75" y="458.05" font-size="7.4" text-anchor="middle" fill="#3a3a3a" font-weight="normal" font-style="italic" textLength="23.00" lengthAdjust="spacingAndGlyphs" >FADS2</text>
<rect x="248.9" y="454.8" width="34.4" height="9.5" rx="1.5" fill="#fff" fill-opacity="0.95" stroke="#666" stroke-width="0.6"/>
<text x="266.10" y="462.15" font-size="7.4" text-anchor="middle" fill="#3a3a3a" font-weight="normal" font-style="italic" textLength="27.90" lengthAdjust="spacingAndGlyphs" >PKDIP1</text>
<rect x="247.5" y="469.9" width="32.9" height="10.4" rx="1.5" fill="#fff" fill-opacity="0.95" stroke="#666" stroke-width="0.6"/>
<text x="263.95" y="477.70" font-size="7.4" text-anchor="middle" fill="#3a3a3a" font-weight="normal" font-style="italic" textLength="26.40" lengthAdjust="spacingAndGlyphs" >MICAL3</text>
<rect x="281.0" y="486.8" width="74.0" height="9.8" rx="1.5" fill="#fff" fill-opacity="0.95" stroke="#666" stroke-width="0.6"/>
<text x="318.00" y="494.30" font-size="7.4" text-anchor="middle" fill="#3a3a3a" font-weight="normal" font-style="italic" textLength="67.50" lengthAdjust="spacingAndGlyphs" >ENSG00000295937</text>
<rect x="144.8" y="448.4" width="32.5" height="9.9" rx="1.5" fill="#fff" fill-opacity="0.95" stroke="#666" stroke-width="0.6"/>
<text x="161.05" y="455.95" font-size="7.4" text-anchor="middle" fill="#3a3a3a" font-weight="normal" font-style="italic" textLength="26.00" lengthAdjust="spacingAndGlyphs" >IGFBP4</text>
<rect x="117.7" y="465.3" width="28.3" height="9.9" rx="1.5" fill="#fff" fill-opacity="0.95" stroke="#666" stroke-width="0.6"/>
<text x="131.85" y="472.85" font-size="7.4" text-anchor="middle" fill="#3a3a3a" font-weight="normal" font-style="italic" textLength="21.80" lengthAdjust="spacingAndGlyphs" >ITGAX</text>
<rect x="151.4" y="465.3" width="26.8" height="9.9" rx="1.5" fill="#fff" fill-opacity="0.95" stroke="#666" stroke-width="0.6"/>
<text x="164.80" y="472.85" font-size="7.4" text-anchor="middle" fill="#3a3a3a" font-weight="normal" font-style="italic" textLength="20.30" lengthAdjust="spacingAndGlyphs" >GZMB</text>
<rect x="184.7" y="462.7" width="34.8" height="10.0" rx="1.5" fill="#fff" fill-opacity="0.78" stroke="#666" stroke-width="0.6"/>
<text x="202.10" y="470.30" font-size="7.4" text-anchor="middle" fill="#3a3a3a" font-weight="normal" font-style="italic" textLength="28.30" lengthAdjust="spacingAndGlyphs" >IL12RB2</text>
<rect x="206.0" y="470.2" width="26.0" height="10.1" rx="1.5" fill="#fff" fill-opacity="0.78" stroke="#666" stroke-width="0.6"/>
<text x="219.00" y="477.85" font-size="7.4" text-anchor="middle" fill="#3a3a3a" font-weight="normal" font-style="normal" textLength="19.50" lengthAdjust="spacingAndGlyphs" >CHD2</text>
<rect x="144.3" y="480.7" width="21.2" height="10.1" rx="1.5" fill="#fff" fill-opacity="0.95" stroke="#222" stroke-width="0.9"/>
<text x="154.90" y="488.35" font-size="7.4" text-anchor="middle" fill="#3a3a3a" font-weight="normal" font-style="italic" textLength="14.70" lengthAdjust="spacingAndGlyphs" >CD9</text>
<rect x="187.6" y="482.8" width="36.1" height="9.6" rx="1.5" fill="#fff" fill-opacity="0.78" stroke="#222" stroke-width="0.9"/>
<text x="205.65" y="490.20" font-size="7.4" text-anchor="middle" fill="#3a3a3a" font-weight="normal" font-style="italic" textLength="29.60" lengthAdjust="spacingAndGlyphs" >HAVCR2</text>
<rect x="219.0" y="485.3" width="24.8" height="10.9" rx="1.5" fill="#fff" fill-opacity="0.78" stroke="#666" stroke-width="0.6"/>
<text x="231.40" y="493.35" font-size="7.4" text-anchor="middle" fill="#3a3a3a" font-weight="normal" font-style="normal" textLength="18.30" lengthAdjust="spacingAndGlyphs" >CBX7</text>
<rect x="114.6" y="497.2" width="24.3" height="10.1" rx="1.5" fill="#fff" fill-opacity="0.95" stroke="#666" stroke-width="0.6"/>
<text x="126.75" y="504.85" font-size="7.4" text-anchor="middle" fill="#3a3a3a" font-weight="normal" font-style="italic" textLength="17.80" lengthAdjust="spacingAndGlyphs" >PAWR</text>
<rect x="146.7" y="498.3" width="40.0" height="9.9" rx="1.5" fill="#fff" fill-opacity="0.78" stroke="#666" stroke-width="0.6"/>
<text x="166.70" y="505.85" font-size="7.4" text-anchor="middle" fill="#3a3a3a" font-weight="normal" font-style="italic" textLength="33.50" lengthAdjust="spacingAndGlyphs" >KIAA1143</text>
<rect x="242.1" y="501.8" width="24.4" height="10.0" rx="1.5" fill="#fff" fill-opacity="0.95" stroke="#666" stroke-width="0.6"/>
<text x="254.30" y="509.40" font-size="7.4" text-anchor="middle" fill="#3a3a3a" font-weight="normal" font-style="italic" textLength="17.90" lengthAdjust="spacingAndGlyphs" >TRIO</text>
<rect x="214.4" y="505.5" width="22.7" height="10.0" rx="1.5" fill="#fff" fill-opacity="0.78" stroke="#222" stroke-width="0.9"/>
<text x="225.75" y="513.10" font-size="7.4" text-anchor="middle" fill="#3a3a3a" font-weight="normal" font-style="normal" textLength="16.20" lengthAdjust="spacingAndGlyphs" >OGA</text>
<rect x="36.8" y="482.0" width="73.0" height="9.2" rx="1.5" fill="#fff" fill-opacity="0.95" stroke="#666" stroke-width="0.6"/>
<text x="73.30" y="489.20" font-size="7.4" text-anchor="middle" fill="#3a3a3a" font-weight="normal" font-style="italic" textLength="66.50" lengthAdjust="spacingAndGlyphs" >ENSG00000285827</text>
</g>
<text x="375.60" y="345.70" font-size="13" text-anchor="start" fill="#000" font-weight="bold" font-style="normal" stroke="#000" stroke-width="0.45">h</text>
<line x1="531.90" y1="350.30" x2="531.90" y2="451.50" stroke="#666" stroke-width="0.8" />
<line x1="531.90" y1="451.50" x2="671.50" y2="451.50" stroke="#666" stroke-width="0.8" />
<line x1="537.80" y1="451.50" x2="537.80" y2="454.50" stroke="#666" stroke-width="0.8" />
<line x1="569.65" y1="451.50" x2="569.65" y2="454.50" stroke="#666" stroke-width="0.8" />
<line x1="601.50" y1="451.50" x2="601.50" y2="454.50" stroke="#666" stroke-width="0.8" />
<line x1="633.35" y1="451.50" x2="633.35" y2="454.50" stroke="#666" stroke-width="0.8" />
<line x1="665.20" y1="451.50" x2="665.20" y2="454.50" stroke="#666" stroke-width="0.8" />
<text x="535.60" y="357.70" font-size="8.4" text-anchor="start" fill="#231f20" font-weight="normal" font-style="normal" textLength="61.60" lengthAdjust="spacingAndGlyphs" >Downregulated</text>
<line x1="528.40" y1="361.90" x2="531.90" y2="361.90" stroke="#666" stroke-width="0.8" />
<line x1="528.40" y1="381.30" x2="531.90" y2="381.30" stroke="#666" stroke-width="0.8" />
<line x1="528.40" y1="401.00" x2="531.90" y2="401.00" stroke="#666" stroke-width="0.8" />
<line x1="528.40" y1="420.50" x2="531.90" y2="420.50" stroke="#666" stroke-width="0.8" />
<line x1="528.40" y1="440.00" x2="531.90" y2="440.00" stroke="#666" stroke-width="0.8" />
<text x="523.60" y="364.70" font-size="8.4" text-anchor="end" fill="#231f20" font-weight="normal" font-style="normal" textLength="146.70" lengthAdjust="spacingAndGlyphs" >Response to stimulus (GO:0050896)</text>
<text x="523.60" y="380.00" font-size="8.4" text-anchor="end" fill="#231f20" font-weight="normal" font-style="normal" textLength="117.56" lengthAdjust="spacingAndGlyphs" >Cellular response to stimulus</text>
<text x="523.60" y="389.00" font-size="8.4" text-anchor="end" fill="#231f20" font-weight="normal" font-style="normal" textLength="52.62" lengthAdjust="spacingAndGlyphs" >(GO:0051716)</text>
<text x="523.60" y="403.90" font-size="8.4" text-anchor="end" fill="#231f20" font-weight="normal" font-style="normal" textLength="139.45" lengthAdjust="spacingAndGlyphs" >Response to stress (GO:0006950)</text>
<text x="523.60" y="419.30" font-size="8.4" text-anchor="end" fill="#231f20" font-weight="normal" font-style="normal" textLength="108.39" lengthAdjust="spacingAndGlyphs" >Cellular response to stress</text>
<text x="523.60" y="428.20" font-size="8.4" text-anchor="end" fill="#231f20" font-weight="normal" font-style="normal" textLength="52.62" lengthAdjust="spacingAndGlyphs" >(GO:0033554)</text>
<text x="523.60" y="438.60" font-size="8.4" text-anchor="end" fill="#231f20" font-weight="normal" font-style="normal" textLength="120.11" lengthAdjust="spacingAndGlyphs" >Cellular response to oxidative</text>
<text x="523.60" y="448.00" font-size="8.4" text-anchor="end" fill="#231f20" font-weight="normal" font-style="normal" textLength="85.49" lengthAdjust="spacingAndGlyphs" >stress (GO:0034599)</text>
<circle cx="635.80" cy="361.90" r="4.10" fill="#7a7af6" />
<circle cx="632.90" cy="381.30" r="4.10" fill="#7a7af6" />
<circle cx="631.80" cy="401.00" r="4.10" fill="#7a7af6" />
<circle cx="618.30" cy="420.50" r="4.10" fill="#7a7af6" />
<circle cx="596.10" cy="440.00" r="4.10" fill="#7a7af6" />
<line x1="532.40" y1="462.00" x2="532.40" y2="563.20" stroke="#666" stroke-width="0.8" />
<line x1="532.40" y1="563.20" x2="671.50" y2="563.20" stroke="#666" stroke-width="0.8" />
<line x1="538.60" y1="563.20" x2="538.60" y2="566.20" stroke="#666" stroke-width="0.8" />
<text x="538.60" y="577.00" font-size="8.4" text-anchor="middle" fill="#231f20" font-weight="normal" font-style="normal" >0</text>
<line x1="570.32" y1="563.20" x2="570.32" y2="566.20" stroke="#666" stroke-width="0.8" />
<text x="570.32" y="577.00" font-size="8.4" text-anchor="middle" fill="#231f20" font-weight="normal" font-style="normal" >1</text>
<line x1="602.04" y1="563.20" x2="602.04" y2="566.20" stroke="#666" stroke-width="0.8" />
<text x="602.04" y="577.00" font-size="8.4" text-anchor="middle" fill="#231f20" font-weight="normal" font-style="normal" >2</text>
<line x1="633.76" y1="563.20" x2="633.76" y2="566.20" stroke="#666" stroke-width="0.8" />
<text x="633.76" y="577.00" font-size="8.4" text-anchor="middle" fill="#231f20" font-weight="normal" font-style="normal" >3</text>
<line x1="665.48" y1="563.20" x2="665.48" y2="566.20" stroke="#666" stroke-width="0.8" />
<text x="665.48" y="577.00" font-size="8.4" text-anchor="middle" fill="#231f20" font-weight="normal" font-style="normal" >4</text>
<text x="535.60" y="469.70" font-size="8.4" text-anchor="start" fill="#231f20" font-weight="normal" font-style="normal" textLength="47.60" lengthAdjust="spacingAndGlyphs" >Upregulated</text>
<line x1="528.90" y1="473.50" x2="532.40" y2="473.50" stroke="#666" stroke-width="0.8" />
<line x1="528.90" y1="493.20" x2="532.40" y2="493.20" stroke="#666" stroke-width="0.8" />
<line x1="528.90" y1="513.00" x2="532.40" y2="513.00" stroke="#666" stroke-width="0.8" />
<line x1="528.90" y1="532.40" x2="532.40" y2="532.40" stroke="#666" stroke-width="0.8" />
<line x1="528.90" y1="551.80" x2="532.40" y2="551.80" stroke="#666" stroke-width="0.8" />
<text x="523.60" y="472.90" font-size="8.4" text-anchor="end" fill="#231f20" font-weight="normal" font-style="normal" textLength="132.33" lengthAdjust="spacingAndGlyphs" >Biosynthesis of unsaturated fatty</text>
<text x="523.60" y="481.80" font-size="8.4" text-anchor="end" fill="#231f20" font-weight="normal" font-style="normal" textLength="84.48" lengthAdjust="spacingAndGlyphs" >acids (KEGG:01040)</text>
<text x="523.60" y="495.70" font-size="8.4" text-anchor="end" fill="#231f20" font-weight="normal" font-style="normal" textLength="144.00" lengthAdjust="spacingAndGlyphs" >Fatty acid metabolism (KEGG:01212)</text>
<text x="523.60" y="511.60" font-size="8.4" text-anchor="end" fill="#231f20" font-weight="normal" font-style="normal" textLength="131.81" lengthAdjust="spacingAndGlyphs" >Prostaglandin D receptor activity</text>
<text x="523.60" y="520.50" font-size="8.4" text-anchor="end" fill="#231f20" font-weight="normal" font-style="normal" textLength="52.62" lengthAdjust="spacingAndGlyphs" >(GO:0004956)</text>
<text x="523.60" y="530.90" font-size="8.4" text-anchor="end" fill="#231f20" font-weight="normal" font-style="normal" textLength="129.77" lengthAdjust="spacingAndGlyphs" >Prostaglandin J receptor activity</text>
<text x="523.60" y="539.90" font-size="8.4" text-anchor="end" fill="#231f20" font-weight="normal" font-style="normal" textLength="52.62" lengthAdjust="spacingAndGlyphs" >(GO:0001785)</text>
<text x="523.60" y="550.30" font-size="8.4" text-anchor="end" fill="#231f20" font-weight="normal" font-style="normal" textLength="142.51" lengthAdjust="spacingAndGlyphs" >Regulation of cholesterol metabolic</text>
<text x="523.60" y="559.70" font-size="8.4" text-anchor="end" fill="#231f20" font-weight="normal" font-style="normal" textLength="93.14" lengthAdjust="spacingAndGlyphs" >process (GO:0090181)</text>
<circle cx="658.20" cy="473.50" r="4.10" fill="#f27474" />
<circle cx="616.10" cy="493.20" r="4.10" fill="#f27474" />
<circle cx="608.00" cy="513.00" r="4.10" fill="#f27474" />
<circle cx="608.00" cy="532.40" r="4.10" fill="#f27474" />
<circle cx="606.70" cy="551.80" r="4.10" fill="#f27474" />
<text x="602.60" y="588.00" font-size="8.4" text-anchor="middle" fill="#231f20" font-weight="normal" font-style="normal" >–log<tspan font-size="5.8" dy="2">10</tspan><tspan dy="-2">(</tspan><tspan font-style="italic">P</tspan><tspan font-size="5.8" dy="2">adj</tspan><tspan dy="-2">)</tspan></text>
</svg></body></html>
